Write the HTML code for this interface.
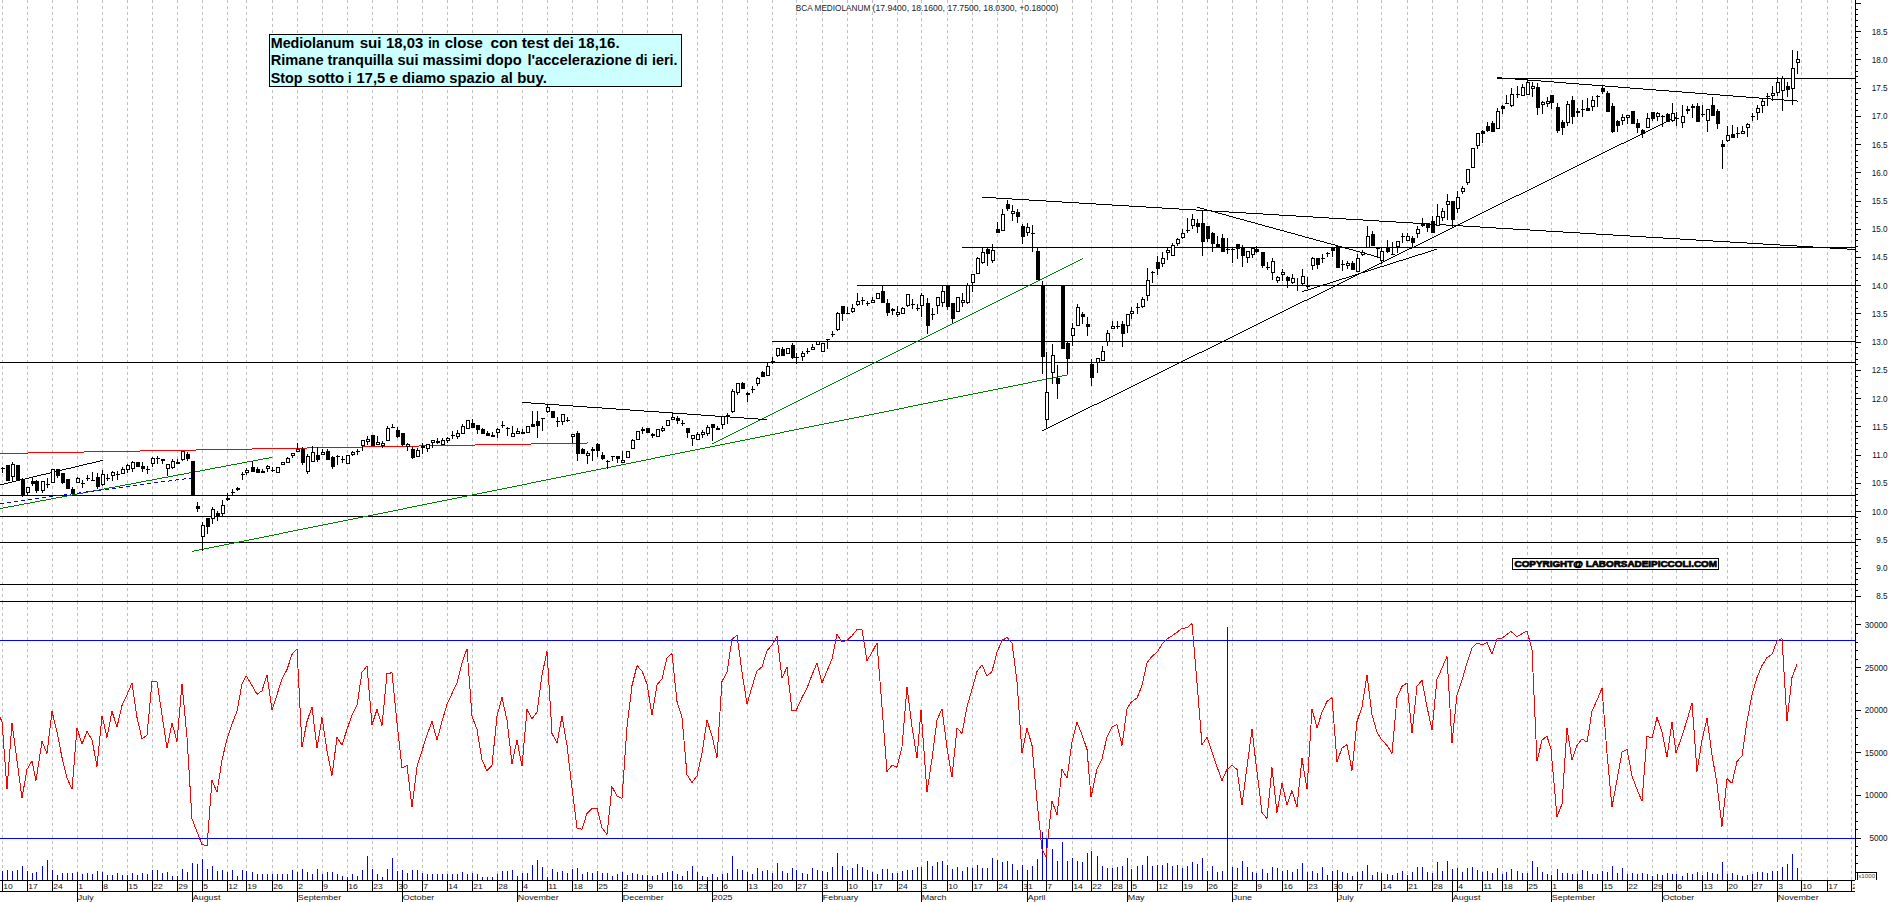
<!DOCTYPE html><html><head><meta charset="utf-8"><title>BCA MEDIOLANUM</title>
<style>html,body{margin:0;padding:0;background:#fff;overflow:hidden}svg{display:block}text{font-family:"Liberation Sans",Arial,sans-serif}</style></head><body>
<svg width="1890" height="902" viewBox="0 0 1890 902">
<rect width="1890" height="902" fill="#fff"/>
<g shape-rendering="crispEdges" stroke="#c0c0c0" stroke-width="1" stroke-dasharray="3 3" fill="none">
<line x1="2.5" y1="0" x2="2.5" y2="601"/><line x1="2.5" y1="601" x2="2.5" y2="880"/>
<line x1="27.5" y1="0" x2="27.5" y2="601"/><line x1="27.5" y1="601" x2="27.5" y2="880"/>
<line x1="52.5" y1="0" x2="52.5" y2="601"/><line x1="52.5" y1="601" x2="52.5" y2="880"/>
<line x1="77.5" y1="0" x2="77.5" y2="601"/><line x1="77.5" y1="601" x2="77.5" y2="880"/>
<line x1="102.5" y1="0" x2="102.5" y2="601"/><line x1="102.5" y1="601" x2="102.5" y2="880"/>
<line x1="127.5" y1="0" x2="127.5" y2="601"/><line x1="127.5" y1="601" x2="127.5" y2="880"/>
<line x1="152.5" y1="0" x2="152.5" y2="601"/><line x1="152.5" y1="601" x2="152.5" y2="880"/>
<line x1="177.5" y1="0" x2="177.5" y2="601"/><line x1="177.5" y1="601" x2="177.5" y2="880"/>
<line x1="202.5" y1="0" x2="202.5" y2="601"/><line x1="202.5" y1="601" x2="202.5" y2="880"/>
<line x1="227.5" y1="0" x2="227.5" y2="601"/><line x1="227.5" y1="601" x2="227.5" y2="880"/>
<line x1="246.5" y1="0" x2="246.5" y2="601"/><line x1="246.5" y1="601" x2="246.5" y2="880"/>
<line x1="272.5" y1="0" x2="272.5" y2="601"/><line x1="272.5" y1="601" x2="272.5" y2="880"/>
<line x1="297.5" y1="0" x2="297.5" y2="601"/><line x1="297.5" y1="601" x2="297.5" y2="880"/>
<line x1="322.5" y1="0" x2="322.5" y2="601"/><line x1="322.5" y1="601" x2="322.5" y2="880"/>
<line x1="347.5" y1="0" x2="347.5" y2="601"/><line x1="347.5" y1="601" x2="347.5" y2="880"/>
<line x1="372.5" y1="0" x2="372.5" y2="601"/><line x1="372.5" y1="601" x2="372.5" y2="880"/>
<line x1="397.5" y1="0" x2="397.5" y2="601"/><line x1="397.5" y1="601" x2="397.5" y2="880"/>
<line x1="422.5" y1="0" x2="422.5" y2="601"/><line x1="422.5" y1="601" x2="422.5" y2="880"/>
<line x1="447.5" y1="0" x2="447.5" y2="601"/><line x1="447.5" y1="601" x2="447.5" y2="880"/>
<line x1="472.5" y1="0" x2="472.5" y2="601"/><line x1="472.5" y1="601" x2="472.5" y2="880"/>
<line x1="497.5" y1="0" x2="497.5" y2="601"/><line x1="497.5" y1="601" x2="497.5" y2="880"/>
<line x1="522.5" y1="0" x2="522.5" y2="601"/><line x1="522.5" y1="601" x2="522.5" y2="880"/>
<line x1="547.5" y1="0" x2="547.5" y2="601"/><line x1="547.5" y1="601" x2="547.5" y2="880"/>
<line x1="572.5" y1="0" x2="572.5" y2="601"/><line x1="572.5" y1="601" x2="572.5" y2="880"/>
<line x1="597.5" y1="0" x2="597.5" y2="601"/><line x1="597.5" y1="601" x2="597.5" y2="880"/>
<line x1="622.5" y1="0" x2="622.5" y2="601"/><line x1="622.5" y1="601" x2="622.5" y2="880"/>
<line x1="647.5" y1="0" x2="647.5" y2="601"/><line x1="647.5" y1="601" x2="647.5" y2="880"/>
<line x1="672.5" y1="0" x2="672.5" y2="601"/><line x1="672.5" y1="601" x2="672.5" y2="880"/>
<line x1="697.5" y1="0" x2="697.5" y2="601"/><line x1="697.5" y1="601" x2="697.5" y2="880"/>
<line x1="722.5" y1="0" x2="722.5" y2="601"/><line x1="722.5" y1="601" x2="722.5" y2="880"/>
<line x1="747.5" y1="0" x2="747.5" y2="601"/><line x1="747.5" y1="601" x2="747.5" y2="880"/>
<line x1="772.5" y1="0" x2="772.5" y2="601"/><line x1="772.5" y1="601" x2="772.5" y2="880"/>
<line x1="796.5" y1="0" x2="796.5" y2="601"/><line x1="796.5" y1="601" x2="796.5" y2="880"/>
<line x1="822.5" y1="0" x2="822.5" y2="601"/><line x1="822.5" y1="601" x2="822.5" y2="880"/>
<line x1="847.5" y1="0" x2="847.5" y2="601"/><line x1="847.5" y1="601" x2="847.5" y2="880"/>
<line x1="872.5" y1="0" x2="872.5" y2="601"/><line x1="872.5" y1="601" x2="872.5" y2="880"/>
<line x1="897.5" y1="0" x2="897.5" y2="601"/><line x1="897.5" y1="601" x2="897.5" y2="880"/>
<line x1="921.5" y1="0" x2="921.5" y2="601"/><line x1="921.5" y1="601" x2="921.5" y2="880"/>
<line x1="947.5" y1="0" x2="947.5" y2="601"/><line x1="947.5" y1="601" x2="947.5" y2="880"/>
<line x1="972.5" y1="0" x2="972.5" y2="601"/><line x1="972.5" y1="601" x2="972.5" y2="880"/>
<line x1="997.5" y1="0" x2="997.5" y2="601"/><line x1="997.5" y1="601" x2="997.5" y2="880"/>
<line x1="1022.5" y1="0" x2="1022.5" y2="601"/><line x1="1022.5" y1="601" x2="1022.5" y2="880"/>
<line x1="1046.5" y1="0" x2="1046.5" y2="601"/><line x1="1046.5" y1="601" x2="1046.5" y2="880"/>
<line x1="1072.5" y1="0" x2="1072.5" y2="601"/><line x1="1072.5" y1="601" x2="1072.5" y2="880"/>
<line x1="1091.5" y1="0" x2="1091.5" y2="601"/><line x1="1091.5" y1="601" x2="1091.5" y2="880"/>
<line x1="1112.5" y1="0" x2="1112.5" y2="601"/><line x1="1112.5" y1="601" x2="1112.5" y2="880"/>
<line x1="1131.5" y1="0" x2="1131.5" y2="601"/><line x1="1131.5" y1="601" x2="1131.5" y2="880"/>
<line x1="1157.5" y1="0" x2="1157.5" y2="601"/><line x1="1157.5" y1="601" x2="1157.5" y2="880"/>
<line x1="1182.5" y1="0" x2="1182.5" y2="601"/><line x1="1182.5" y1="601" x2="1182.5" y2="880"/>
<line x1="1207.5" y1="0" x2="1207.5" y2="601"/><line x1="1207.5" y1="601" x2="1207.5" y2="880"/>
<line x1="1232.5" y1="0" x2="1232.5" y2="601"/><line x1="1232.5" y1="601" x2="1232.5" y2="880"/>
<line x1="1256.5" y1="0" x2="1256.5" y2="601"/><line x1="1256.5" y1="601" x2="1256.5" y2="880"/>
<line x1="1282.5" y1="0" x2="1282.5" y2="601"/><line x1="1282.5" y1="601" x2="1282.5" y2="880"/>
<line x1="1307.5" y1="0" x2="1307.5" y2="601"/><line x1="1307.5" y1="601" x2="1307.5" y2="880"/>
<line x1="1332.5" y1="0" x2="1332.5" y2="601"/><line x1="1332.5" y1="601" x2="1332.5" y2="880"/>
<line x1="1357.5" y1="0" x2="1357.5" y2="601"/><line x1="1357.5" y1="601" x2="1357.5" y2="880"/>
<line x1="1381.5" y1="0" x2="1381.5" y2="601"/><line x1="1381.5" y1="601" x2="1381.5" y2="880"/>
<line x1="1407.5" y1="0" x2="1407.5" y2="601"/><line x1="1407.5" y1="601" x2="1407.5" y2="880"/>
<line x1="1432.5" y1="0" x2="1432.5" y2="601"/><line x1="1432.5" y1="601" x2="1432.5" y2="880"/>
<line x1="1457.5" y1="0" x2="1457.5" y2="601"/><line x1="1457.5" y1="601" x2="1457.5" y2="880"/>
<line x1="1482.5" y1="0" x2="1482.5" y2="601"/><line x1="1482.5" y1="601" x2="1482.5" y2="880"/>
<line x1="1502.5" y1="0" x2="1502.5" y2="601"/><line x1="1502.5" y1="601" x2="1502.5" y2="880"/>
<line x1="1527.5" y1="0" x2="1527.5" y2="601"/><line x1="1527.5" y1="601" x2="1527.5" y2="880"/>
<line x1="1551.5" y1="0" x2="1551.5" y2="601"/><line x1="1551.5" y1="601" x2="1551.5" y2="880"/>
<line x1="1577.5" y1="0" x2="1577.5" y2="601"/><line x1="1577.5" y1="601" x2="1577.5" y2="880"/>
<line x1="1602.5" y1="0" x2="1602.5" y2="601"/><line x1="1602.5" y1="601" x2="1602.5" y2="880"/>
<line x1="1627.5" y1="0" x2="1627.5" y2="601"/><line x1="1627.5" y1="601" x2="1627.5" y2="880"/>
<line x1="1652.5" y1="0" x2="1652.5" y2="601"/><line x1="1652.5" y1="601" x2="1652.5" y2="880"/>
<line x1="1676.5" y1="0" x2="1676.5" y2="601"/><line x1="1676.5" y1="601" x2="1676.5" y2="880"/>
<line x1="1702.5" y1="0" x2="1702.5" y2="601"/><line x1="1702.5" y1="601" x2="1702.5" y2="880"/>
<line x1="1727.5" y1="0" x2="1727.5" y2="601"/><line x1="1727.5" y1="601" x2="1727.5" y2="880"/>
<line x1="1752.5" y1="0" x2="1752.5" y2="601"/><line x1="1752.5" y1="601" x2="1752.5" y2="880"/>
<line x1="1777.5" y1="0" x2="1777.5" y2="601"/><line x1="1777.5" y1="601" x2="1777.5" y2="880"/>
<line x1="1801.5" y1="0" x2="1801.5" y2="601"/><line x1="1801.5" y1="601" x2="1801.5" y2="880"/>
<line x1="1827.5" y1="0" x2="1827.5" y2="601"/><line x1="1827.5" y1="601" x2="1827.5" y2="880"/>
<line x1="1851.5" y1="0" x2="1851.5" y2="601"/><line x1="1851.5" y1="601" x2="1851.5" y2="880"/>
</g>
<g shape-rendering="crispEdges" fill="#000">
<rect x="1497" y="78" width="358" height="1"/>
<rect x="962" y="247" width="893" height="1"/>
<rect x="857" y="285" width="998" height="1"/>
<rect x="772" y="341" width="1083" height="1"/>
<rect x="0" y="362" width="1855" height="1"/>
<rect x="0" y="495" width="1855" height="1"/>
<rect x="0" y="516" width="1855" height="1"/>
<rect x="0" y="542" width="1855" height="1"/>
<rect x="0" y="584" width="1855" height="1"/>
<rect x="0" y="601" width="1855" height="1"/>
</g>
<g shape-rendering="crispEdges">
<g fill="#f00"><rect x="0" y="453" width="28" height="1"/><rect x="28" y="452" width="56" height="1"/><rect x="84" y="451" width="56" height="1"/><rect x="140" y="450" width="56" height="1"/><rect x="196" y="449" width="56" height="1"/><rect x="252" y="448" width="55" height="1"/><rect x="307" y="447" width="56" height="1"/><rect x="363" y="446" width="56" height="1"/><rect x="419" y="445" width="56" height="1"/><rect x="475" y="444" width="56" height="1"/><rect x="531" y="443" width="56" height="1"/><rect x="587" y="442" width="1" height="1"/></g>
<g fill="#008000"><rect x="0" y="508" width="3" height="1"/><rect x="3" y="507" width="5" height="1"/><rect x="8" y="506" width="6" height="1"/><rect x="14" y="505" width="5" height="1"/><rect x="19" y="504" width="5" height="1"/><rect x="24" y="503" width="6" height="1"/><rect x="30" y="502" width="5" height="1"/><rect x="35" y="501" width="5" height="1"/><rect x="40" y="500" width="6" height="1"/><rect x="46" y="499" width="5" height="1"/><rect x="51" y="498" width="5" height="1"/><rect x="56" y="497" width="6" height="1"/><rect x="62" y="496" width="5" height="1"/><rect x="67" y="495" width="5" height="1"/><rect x="72" y="494" width="5" height="1"/><rect x="77" y="493" width="6" height="1"/><rect x="83" y="492" width="5" height="1"/><rect x="88" y="491" width="5" height="1"/><rect x="93" y="490" width="6" height="1"/><rect x="99" y="489" width="5" height="1"/><rect x="104" y="488" width="5" height="1"/><rect x="109" y="487" width="6" height="1"/><rect x="115" y="486" width="5" height="1"/><rect x="120" y="485" width="5" height="1"/><rect x="125" y="484" width="6" height="1"/><rect x="131" y="483" width="5" height="1"/><rect x="136" y="482" width="5" height="1"/><rect x="141" y="481" width="5" height="1"/><rect x="146" y="480" width="6" height="1"/><rect x="152" y="479" width="5" height="1"/><rect x="157" y="478" width="5" height="1"/><rect x="162" y="477" width="6" height="1"/><rect x="168" y="476" width="5" height="1"/><rect x="173" y="475" width="5" height="1"/><rect x="178" y="474" width="6" height="1"/><rect x="184" y="473" width="5" height="1"/><rect x="189" y="472" width="5" height="1"/><rect x="194" y="471" width="6" height="1"/><rect x="200" y="470" width="5" height="1"/><rect x="205" y="469" width="5" height="1"/><rect x="210" y="468" width="5" height="1"/><rect x="215" y="467" width="6" height="1"/><rect x="221" y="466" width="5" height="1"/><rect x="226" y="465" width="5" height="1"/><rect x="231" y="464" width="6" height="1"/><rect x="237" y="463" width="5" height="1"/><rect x="242" y="462" width="5" height="1"/><rect x="247" y="461" width="6" height="1"/><rect x="253" y="460" width="5" height="1"/><rect x="258" y="459" width="5" height="1"/><rect x="263" y="458" width="6" height="1"/><rect x="269" y="457" width="3" height="1"/></g>
<g fill="#00f"><rect x="0" y="503" width="4" height="1"/><rect x="7" y="502" width="4" height="1"/><rect x="14" y="501" width="4" height="1"/><rect x="21" y="500" width="4" height="1"/><rect x="28" y="499" width="4" height="1"/><rect x="35" y="498" width="4" height="1"/><rect x="42" y="497" width="4" height="1"/><rect x="49" y="496" width="4" height="1"/><rect x="56" y="495" width="4" height="1"/><rect x="63" y="495" width="1" height="1"/><rect x="64" y="494" width="3" height="1"/><rect x="70" y="494" width="1" height="1"/><rect x="71" y="493" width="3" height="1"/><rect x="77" y="493" width="2" height="1"/><rect x="79" y="492" width="2" height="1"/><rect x="84" y="492" width="2" height="1"/><rect x="86" y="491" width="2" height="1"/><rect x="91" y="491" width="3" height="1"/><rect x="94" y="490" width="1" height="1"/><rect x="98" y="490" width="3" height="1"/><rect x="101" y="489" width="1" height="1"/><rect x="105" y="489" width="4" height="1"/><rect x="112" y="488" width="4" height="1"/><rect x="119" y="487" width="4" height="1"/><rect x="126" y="486" width="4" height="1"/><rect x="133" y="485" width="4" height="1"/><rect x="140" y="484" width="4" height="1"/><rect x="147" y="483" width="4" height="1"/><rect x="154" y="482" width="4" height="1"/><rect x="161" y="481" width="4" height="1"/><rect x="168" y="481" width="1" height="1"/><rect x="169" y="480" width="3" height="1"/><rect x="175" y="480" width="1" height="1"/><rect x="176" y="479" width="3" height="1"/><rect x="182" y="479" width="2" height="1"/><rect x="184" y="478" width="2" height="1"/><rect x="189" y="478" width="2" height="1"/><rect x="191" y="477" width="2" height="1"/></g>
<g fill="#000"><rect x="0" y="484" width="4" height="1"/><rect x="4" y="483" width="4" height="1"/><rect x="8" y="482" width="4" height="1"/><rect x="12" y="481" width="4" height="1"/><rect x="16" y="480" width="4" height="1"/><rect x="20" y="479" width="5" height="1"/><rect x="25" y="478" width="4" height="1"/><rect x="29" y="477" width="4" height="1"/><rect x="33" y="476" width="4" height="1"/><rect x="37" y="475" width="4" height="1"/><rect x="41" y="474" width="5" height="1"/><rect x="46" y="473" width="4" height="1"/><rect x="50" y="472" width="4" height="1"/><rect x="54" y="471" width="4" height="1"/><rect x="58" y="470" width="4" height="1"/><rect x="62" y="469" width="4" height="1"/><rect x="66" y="468" width="5" height="1"/><rect x="71" y="467" width="4" height="1"/><rect x="75" y="466" width="4" height="1"/><rect x="79" y="465" width="4" height="1"/><rect x="83" y="464" width="4" height="1"/><rect x="87" y="463" width="5" height="1"/><rect x="92" y="462" width="4" height="1"/><rect x="96" y="461" width="4" height="1"/><rect x="100" y="460" width="3" height="1"/></g>
<g fill="#008000"><rect x="192" y="551" width="2" height="1"/><rect x="194" y="550" width="5" height="1"/><rect x="199" y="549" width="5" height="1"/><rect x="204" y="548" width="5" height="1"/><rect x="209" y="547" width="5" height="1"/><rect x="214" y="546" width="5" height="1"/><rect x="219" y="545" width="5" height="1"/><rect x="224" y="544" width="5" height="1"/><rect x="229" y="543" width="5" height="1"/><rect x="234" y="542" width="5" height="1"/><rect x="239" y="541" width="5" height="1"/><rect x="244" y="540" width="5" height="1"/><rect x="249" y="539" width="5" height="1"/><rect x="254" y="538" width="5" height="1"/><rect x="259" y="537" width="5" height="1"/><rect x="264" y="536" width="5" height="1"/><rect x="269" y="535" width="5" height="1"/><rect x="274" y="534" width="5" height="1"/><rect x="279" y="533" width="4" height="1"/><rect x="283" y="532" width="5" height="1"/><rect x="288" y="531" width="5" height="1"/><rect x="293" y="530" width="5" height="1"/><rect x="298" y="529" width="5" height="1"/><rect x="303" y="528" width="5" height="1"/><rect x="308" y="527" width="5" height="1"/><rect x="313" y="526" width="5" height="1"/><rect x="318" y="525" width="5" height="1"/><rect x="323" y="524" width="5" height="1"/><rect x="328" y="523" width="5" height="1"/><rect x="333" y="522" width="5" height="1"/><rect x="338" y="521" width="5" height="1"/><rect x="343" y="520" width="5" height="1"/><rect x="348" y="519" width="5" height="1"/><rect x="353" y="518" width="5" height="1"/><rect x="358" y="517" width="5" height="1"/><rect x="363" y="516" width="5" height="1"/><rect x="368" y="515" width="5" height="1"/><rect x="373" y="514" width="5" height="1"/><rect x="378" y="513" width="5" height="1"/><rect x="383" y="512" width="5" height="1"/><rect x="388" y="511" width="5" height="1"/><rect x="393" y="510" width="5" height="1"/><rect x="398" y="509" width="5" height="1"/><rect x="403" y="508" width="4" height="1"/><rect x="407" y="507" width="5" height="1"/><rect x="412" y="506" width="5" height="1"/><rect x="417" y="505" width="5" height="1"/><rect x="422" y="504" width="5" height="1"/><rect x="427" y="503" width="5" height="1"/><rect x="432" y="502" width="5" height="1"/><rect x="437" y="501" width="5" height="1"/><rect x="442" y="500" width="5" height="1"/><rect x="447" y="499" width="5" height="1"/><rect x="452" y="498" width="5" height="1"/><rect x="457" y="497" width="5" height="1"/><rect x="462" y="496" width="5" height="1"/><rect x="467" y="495" width="5" height="1"/><rect x="472" y="494" width="5" height="1"/><rect x="477" y="493" width="5" height="1"/><rect x="482" y="492" width="5" height="1"/><rect x="487" y="491" width="5" height="1"/><rect x="492" y="490" width="5" height="1"/><rect x="497" y="489" width="5" height="1"/><rect x="502" y="488" width="5" height="1"/><rect x="507" y="487" width="5" height="1"/><rect x="512" y="486" width="5" height="1"/><rect x="517" y="485" width="5" height="1"/><rect x="522" y="484" width="5" height="1"/><rect x="527" y="483" width="4" height="1"/><rect x="531" y="482" width="5" height="1"/><rect x="536" y="481" width="5" height="1"/><rect x="541" y="480" width="5" height="1"/><rect x="546" y="479" width="5" height="1"/><rect x="551" y="478" width="5" height="1"/><rect x="556" y="477" width="5" height="1"/><rect x="561" y="476" width="5" height="1"/><rect x="566" y="475" width="5" height="1"/><rect x="571" y="474" width="5" height="1"/><rect x="576" y="473" width="5" height="1"/><rect x="581" y="472" width="5" height="1"/><rect x="586" y="471" width="5" height="1"/><rect x="591" y="470" width="5" height="1"/><rect x="596" y="469" width="5" height="1"/><rect x="601" y="468" width="5" height="1"/><rect x="606" y="467" width="5" height="1"/><rect x="611" y="466" width="5" height="1"/><rect x="616" y="465" width="5" height="1"/><rect x="621" y="464" width="5" height="1"/><rect x="626" y="463" width="5" height="1"/><rect x="631" y="462" width="5" height="1"/><rect x="636" y="461" width="5" height="1"/><rect x="641" y="460" width="5" height="1"/><rect x="646" y="459" width="5" height="1"/><rect x="651" y="458" width="4" height="1"/><rect x="655" y="457" width="5" height="1"/><rect x="660" y="456" width="5" height="1"/><rect x="665" y="455" width="5" height="1"/><rect x="670" y="454" width="5" height="1"/><rect x="675" y="453" width="5" height="1"/><rect x="680" y="452" width="5" height="1"/><rect x="685" y="451" width="5" height="1"/><rect x="690" y="450" width="5" height="1"/><rect x="695" y="449" width="5" height="1"/><rect x="700" y="448" width="5" height="1"/><rect x="705" y="447" width="5" height="1"/><rect x="710" y="446" width="5" height="1"/><rect x="715" y="445" width="5" height="1"/><rect x="720" y="444" width="5" height="1"/><rect x="725" y="443" width="5" height="1"/><rect x="730" y="442" width="5" height="1"/><rect x="735" y="441" width="5" height="1"/><rect x="740" y="440" width="5" height="1"/><rect x="745" y="439" width="5" height="1"/><rect x="750" y="438" width="5" height="1"/><rect x="755" y="437" width="5" height="1"/><rect x="760" y="436" width="5" height="1"/><rect x="765" y="435" width="5" height="1"/><rect x="770" y="434" width="5" height="1"/><rect x="775" y="433" width="5" height="1"/><rect x="780" y="432" width="4" height="1"/><rect x="784" y="431" width="5" height="1"/><rect x="789" y="430" width="5" height="1"/><rect x="794" y="429" width="5" height="1"/><rect x="799" y="428" width="5" height="1"/><rect x="804" y="427" width="5" height="1"/><rect x="809" y="426" width="5" height="1"/><rect x="814" y="425" width="5" height="1"/><rect x="819" y="424" width="5" height="1"/><rect x="824" y="423" width="5" height="1"/><rect x="829" y="422" width="5" height="1"/><rect x="834" y="421" width="5" height="1"/><rect x="839" y="420" width="5" height="1"/><rect x="844" y="419" width="5" height="1"/><rect x="849" y="418" width="5" height="1"/><rect x="854" y="417" width="5" height="1"/><rect x="859" y="416" width="5" height="1"/><rect x="864" y="415" width="5" height="1"/><rect x="869" y="414" width="5" height="1"/><rect x="874" y="413" width="5" height="1"/><rect x="879" y="412" width="5" height="1"/><rect x="884" y="411" width="5" height="1"/><rect x="889" y="410" width="5" height="1"/><rect x="894" y="409" width="5" height="1"/><rect x="899" y="408" width="5" height="1"/><rect x="904" y="407" width="4" height="1"/><rect x="908" y="406" width="5" height="1"/><rect x="913" y="405" width="5" height="1"/><rect x="918" y="404" width="5" height="1"/><rect x="923" y="403" width="5" height="1"/><rect x="928" y="402" width="5" height="1"/><rect x="933" y="401" width="5" height="1"/><rect x="938" y="400" width="5" height="1"/><rect x="943" y="399" width="5" height="1"/><rect x="948" y="398" width="5" height="1"/><rect x="953" y="397" width="5" height="1"/><rect x="958" y="396" width="5" height="1"/><rect x="963" y="395" width="5" height="1"/><rect x="968" y="394" width="5" height="1"/><rect x="973" y="393" width="5" height="1"/><rect x="978" y="392" width="5" height="1"/><rect x="983" y="391" width="5" height="1"/><rect x="988" y="390" width="5" height="1"/><rect x="993" y="389" width="5" height="1"/><rect x="998" y="388" width="5" height="1"/><rect x="1003" y="387" width="5" height="1"/><rect x="1008" y="386" width="5" height="1"/><rect x="1013" y="385" width="5" height="1"/><rect x="1018" y="384" width="5" height="1"/><rect x="1023" y="383" width="5" height="1"/><rect x="1028" y="382" width="4" height="1"/><rect x="1032" y="381" width="5" height="1"/><rect x="1037" y="380" width="5" height="1"/><rect x="1042" y="379" width="5" height="1"/><rect x="1047" y="378" width="5" height="1"/><rect x="1052" y="377" width="5" height="1"/><rect x="1057" y="376" width="5" height="1"/><rect x="1062" y="375" width="5" height="1"/><rect x="1067" y="374" width="1" height="1"/></g>
<g fill="#008000"><rect x="712" y="443" width="2" height="1"/><rect x="714" y="442" width="2" height="1"/><rect x="716" y="441" width="2" height="1"/><rect x="718" y="440" width="2" height="1"/><rect x="720" y="439" width="2" height="1"/><rect x="722" y="438" width="2" height="1"/><rect x="724" y="437" width="2" height="1"/><rect x="726" y="436" width="2" height="1"/><rect x="728" y="435" width="2" height="1"/><rect x="730" y="434" width="2" height="1"/><rect x="732" y="433" width="2" height="1"/><rect x="734" y="432" width="2" height="1"/><rect x="736" y="431" width="2" height="1"/><rect x="738" y="430" width="2" height="1"/><rect x="740" y="429" width="2" height="1"/><rect x="742" y="428" width="2" height="1"/><rect x="744" y="427" width="2" height="1"/><rect x="746" y="426" width="2" height="1"/><rect x="748" y="425" width="2" height="1"/><rect x="750" y="424" width="2" height="1"/><rect x="752" y="423" width="2" height="1"/><rect x="754" y="422" width="2" height="1"/><rect x="756" y="421" width="2" height="1"/><rect x="758" y="420" width="2" height="1"/><rect x="760" y="419" width="2" height="1"/><rect x="762" y="418" width="2" height="1"/><rect x="764" y="417" width="2" height="1"/><rect x="766" y="416" width="2" height="1"/><rect x="768" y="415" width="2" height="1"/><rect x="770" y="414" width="2" height="1"/><rect x="772" y="413" width="2" height="1"/><rect x="774" y="412" width="2" height="1"/><rect x="776" y="411" width="2" height="1"/><rect x="778" y="410" width="2" height="1"/><rect x="780" y="409" width="2" height="1"/><rect x="782" y="408" width="2" height="1"/><rect x="784" y="407" width="2" height="1"/><rect x="786" y="406" width="2" height="1"/><rect x="788" y="405" width="2" height="1"/><rect x="790" y="404" width="2" height="1"/><rect x="792" y="403" width="2" height="1"/><rect x="794" y="402" width="2" height="1"/><rect x="796" y="401" width="2" height="1"/><rect x="798" y="400" width="2" height="1"/><rect x="800" y="399" width="2" height="1"/><rect x="802" y="398" width="2" height="1"/><rect x="804" y="397" width="2" height="1"/><rect x="806" y="396" width="2" height="1"/><rect x="808" y="395" width="2" height="1"/><rect x="810" y="394" width="2" height="1"/><rect x="812" y="393" width="2" height="1"/><rect x="814" y="392" width="2" height="1"/><rect x="816" y="391" width="2" height="1"/><rect x="818" y="390" width="2" height="1"/><rect x="820" y="389" width="2" height="1"/><rect x="822" y="388" width="2" height="1"/><rect x="824" y="387" width="2" height="1"/><rect x="826" y="386" width="2" height="1"/><rect x="828" y="385" width="2" height="1"/><rect x="830" y="384" width="2" height="1"/><rect x="832" y="383" width="2" height="1"/><rect x="834" y="382" width="2" height="1"/><rect x="836" y="381" width="2" height="1"/><rect x="838" y="380" width="2" height="1"/><rect x="840" y="379" width="2" height="1"/><rect x="842" y="378" width="2" height="1"/><rect x="844" y="377" width="2" height="1"/><rect x="846" y="376" width="2" height="1"/><rect x="848" y="375" width="2" height="1"/><rect x="850" y="374" width="2" height="1"/><rect x="852" y="373" width="2" height="1"/><rect x="854" y="372" width="2" height="1"/><rect x="856" y="371" width="2" height="1"/><rect x="858" y="370" width="2" height="1"/><rect x="860" y="369" width="2" height="1"/><rect x="862" y="368" width="2" height="1"/><rect x="864" y="367" width="2" height="1"/><rect x="866" y="366" width="2" height="1"/><rect x="868" y="365" width="2" height="1"/><rect x="870" y="364" width="2" height="1"/><rect x="872" y="363" width="2" height="1"/><rect x="874" y="362" width="2" height="1"/><rect x="876" y="361" width="2" height="1"/><rect x="878" y="360" width="2" height="1"/><rect x="880" y="359" width="2" height="1"/><rect x="882" y="358" width="2" height="1"/><rect x="884" y="357" width="2" height="1"/><rect x="886" y="356" width="2" height="1"/><rect x="888" y="355" width="2" height="1"/><rect x="890" y="354" width="2" height="1"/><rect x="892" y="353" width="2" height="1"/><rect x="894" y="352" width="2" height="1"/><rect x="896" y="351" width="2" height="1"/><rect x="898" y="350" width="2" height="1"/><rect x="900" y="349" width="2" height="1"/><rect x="902" y="348" width="2" height="1"/><rect x="904" y="347" width="2" height="1"/><rect x="906" y="346" width="2" height="1"/><rect x="908" y="345" width="2" height="1"/><rect x="910" y="344" width="2" height="1"/><rect x="912" y="343" width="2" height="1"/><rect x="914" y="342" width="2" height="1"/><rect x="916" y="341" width="2" height="1"/><rect x="918" y="340" width="2" height="1"/><rect x="920" y="339" width="2" height="1"/><rect x="922" y="338" width="2" height="1"/><rect x="924" y="337" width="2" height="1"/><rect x="926" y="336" width="2" height="1"/><rect x="928" y="335" width="2" height="1"/><rect x="930" y="334" width="2" height="1"/><rect x="932" y="333" width="2" height="1"/><rect x="934" y="332" width="2" height="1"/><rect x="936" y="331" width="2" height="1"/><rect x="938" y="330" width="2" height="1"/><rect x="940" y="329" width="2" height="1"/><rect x="942" y="328" width="2" height="1"/><rect x="944" y="327" width="2" height="1"/><rect x="946" y="326" width="2" height="1"/><rect x="948" y="325" width="2" height="1"/><rect x="950" y="324" width="2" height="1"/><rect x="952" y="323" width="2" height="1"/><rect x="954" y="322" width="2" height="1"/><rect x="956" y="321" width="2" height="1"/><rect x="958" y="320" width="2" height="1"/><rect x="960" y="319" width="2" height="1"/><rect x="962" y="318" width="2" height="1"/><rect x="964" y="317" width="2" height="1"/><rect x="966" y="316" width="2" height="1"/><rect x="968" y="315" width="2" height="1"/><rect x="970" y="314" width="2" height="1"/><rect x="972" y="313" width="2" height="1"/><rect x="974" y="312" width="2" height="1"/><rect x="976" y="311" width="2" height="1"/><rect x="978" y="310" width="2" height="1"/><rect x="980" y="309" width="2" height="1"/><rect x="982" y="308" width="2" height="1"/><rect x="984" y="307" width="2" height="1"/><rect x="986" y="306" width="2" height="1"/><rect x="988" y="305" width="2" height="1"/><rect x="990" y="304" width="2" height="1"/><rect x="992" y="303" width="2" height="1"/><rect x="994" y="302" width="2" height="1"/><rect x="996" y="301" width="2" height="1"/><rect x="998" y="300" width="2" height="1"/><rect x="1000" y="299" width="2" height="1"/><rect x="1002" y="298" width="2" height="1"/><rect x="1004" y="297" width="2" height="1"/><rect x="1006" y="296" width="2" height="1"/><rect x="1008" y="295" width="2" height="1"/><rect x="1010" y="294" width="2" height="1"/><rect x="1012" y="293" width="2" height="1"/><rect x="1014" y="292" width="2" height="1"/><rect x="1016" y="291" width="2" height="1"/><rect x="1018" y="290" width="2" height="1"/><rect x="1020" y="289" width="2" height="1"/><rect x="1022" y="288" width="2" height="1"/><rect x="1024" y="287" width="2" height="1"/><rect x="1026" y="286" width="2" height="1"/><rect x="1028" y="285" width="2" height="1"/><rect x="1030" y="284" width="2" height="1"/><rect x="1032" y="283" width="2" height="1"/><rect x="1034" y="282" width="2" height="1"/><rect x="1036" y="281" width="2" height="1"/><rect x="1038" y="280" width="2" height="1"/><rect x="1040" y="279" width="2" height="1"/><rect x="1042" y="278" width="2" height="1"/><rect x="1044" y="277" width="2" height="1"/><rect x="1046" y="276" width="2" height="1"/><rect x="1048" y="275" width="2" height="1"/><rect x="1050" y="274" width="2" height="1"/><rect x="1052" y="273" width="2" height="1"/><rect x="1054" y="272" width="2" height="1"/><rect x="1056" y="271" width="2" height="1"/><rect x="1058" y="270" width="2" height="1"/><rect x="1060" y="269" width="2" height="1"/><rect x="1062" y="268" width="2" height="1"/><rect x="1064" y="267" width="2" height="1"/><rect x="1066" y="266" width="2" height="1"/><rect x="1068" y="265" width="2" height="1"/><rect x="1070" y="264" width="2" height="1"/><rect x="1072" y="263" width="2" height="1"/><rect x="1074" y="262" width="2" height="1"/><rect x="1076" y="261" width="2" height="1"/><rect x="1078" y="260" width="2" height="1"/><rect x="1080" y="259" width="2" height="1"/><rect x="1082" y="258" width="1" height="1"/></g>
<g fill="#000"><rect x="522" y="402" width="9" height="1"/><rect x="531" y="403" width="14" height="1"/><rect x="545" y="404" width="14" height="1"/><rect x="559" y="405" width="14" height="1"/><rect x="573" y="406" width="14" height="1"/><rect x="587" y="407" width="15" height="1"/><rect x="602" y="408" width="14" height="1"/><rect x="616" y="409" width="14" height="1"/><rect x="630" y="410" width="14" height="1"/><rect x="644" y="411" width="15" height="1"/><rect x="659" y="412" width="14" height="1"/><rect x="673" y="413" width="14" height="1"/><rect x="687" y="414" width="14" height="1"/><rect x="701" y="415" width="14" height="1"/><rect x="715" y="416" width="15" height="1"/><rect x="730" y="417" width="14" height="1"/><rect x="744" y="418" width="14" height="1"/><rect x="758" y="419" width="9" height="1"/></g>
<g fill="#000"><rect x="982" y="197" width="14" height="1"/><rect x="996" y="198" width="16" height="1"/><rect x="1012" y="199" width="17" height="1"/><rect x="1029" y="200" width="17" height="1"/><rect x="1046" y="201" width="16" height="1"/><rect x="1062" y="202" width="17" height="1"/><rect x="1079" y="203" width="17" height="1"/><rect x="1096" y="204" width="16" height="1"/><rect x="1112" y="205" width="17" height="1"/><rect x="1129" y="206" width="17" height="1"/><rect x="1146" y="207" width="16" height="1"/><rect x="1162" y="208" width="17" height="1"/><rect x="1179" y="209" width="17" height="1"/><rect x="1196" y="210" width="16" height="1"/><rect x="1212" y="211" width="17" height="1"/><rect x="1229" y="212" width="17" height="1"/><rect x="1246" y="213" width="17" height="1"/><rect x="1263" y="214" width="16" height="1"/><rect x="1279" y="215" width="17" height="1"/><rect x="1296" y="216" width="17" height="1"/><rect x="1313" y="217" width="16" height="1"/><rect x="1329" y="218" width="17" height="1"/><rect x="1346" y="219" width="17" height="1"/><rect x="1363" y="220" width="16" height="1"/><rect x="1379" y="221" width="17" height="1"/><rect x="1396" y="222" width="17" height="1"/><rect x="1413" y="223" width="16" height="1"/><rect x="1429" y="224" width="17" height="1"/><rect x="1446" y="225" width="17" height="1"/><rect x="1463" y="226" width="17" height="1"/><rect x="1480" y="227" width="16" height="1"/><rect x="1496" y="228" width="17" height="1"/><rect x="1513" y="229" width="17" height="1"/><rect x="1530" y="230" width="16" height="1"/><rect x="1546" y="231" width="17" height="1"/><rect x="1563" y="232" width="17" height="1"/><rect x="1580" y="233" width="16" height="1"/><rect x="1596" y="234" width="17" height="1"/><rect x="1613" y="235" width="17" height="1"/><rect x="1630" y="236" width="16" height="1"/><rect x="1646" y="237" width="17" height="1"/><rect x="1663" y="238" width="17" height="1"/><rect x="1680" y="239" width="16" height="1"/><rect x="1696" y="240" width="17" height="1"/><rect x="1713" y="241" width="17" height="1"/><rect x="1730" y="242" width="17" height="1"/><rect x="1747" y="243" width="16" height="1"/><rect x="1763" y="244" width="17" height="1"/><rect x="1780" y="245" width="17" height="1"/><rect x="1797" y="246" width="16" height="1"/><rect x="1813" y="247" width="17" height="1"/><rect x="1830" y="248" width="17" height="1"/><rect x="1847" y="249" width="9" height="1"/></g>
<g fill="#000"><rect x="1197" y="207" width="3" height="1"/><rect x="1200" y="208" width="4" height="1"/><rect x="1204" y="209" width="3" height="1"/><rect x="1207" y="210" width="4" height="1"/><rect x="1211" y="211" width="4" height="1"/><rect x="1215" y="212" width="3" height="1"/><rect x="1218" y="213" width="4" height="1"/><rect x="1222" y="214" width="4" height="1"/><rect x="1226" y="215" width="3" height="1"/><rect x="1229" y="216" width="4" height="1"/><rect x="1233" y="217" width="3" height="1"/><rect x="1236" y="218" width="4" height="1"/><rect x="1240" y="219" width="4" height="1"/><rect x="1244" y="220" width="3" height="1"/><rect x="1247" y="221" width="4" height="1"/><rect x="1251" y="222" width="4" height="1"/><rect x="1255" y="223" width="3" height="1"/><rect x="1258" y="224" width="4" height="1"/><rect x="1262" y="225" width="3" height="1"/><rect x="1265" y="226" width="4" height="1"/><rect x="1269" y="227" width="4" height="1"/><rect x="1273" y="228" width="3" height="1"/><rect x="1276" y="229" width="4" height="1"/><rect x="1280" y="230" width="4" height="1"/><rect x="1284" y="231" width="3" height="1"/><rect x="1287" y="232" width="4" height="1"/><rect x="1291" y="233" width="4" height="1"/><rect x="1295" y="234" width="3" height="1"/><rect x="1298" y="235" width="4" height="1"/><rect x="1302" y="236" width="3" height="1"/><rect x="1305" y="237" width="4" height="1"/><rect x="1309" y="238" width="4" height="1"/><rect x="1313" y="239" width="3" height="1"/><rect x="1316" y="240" width="4" height="1"/><rect x="1320" y="241" width="4" height="1"/><rect x="1324" y="242" width="3" height="1"/><rect x="1327" y="243" width="4" height="1"/><rect x="1331" y="244" width="4" height="1"/><rect x="1335" y="245" width="3" height="1"/><rect x="1338" y="246" width="4" height="1"/><rect x="1342" y="247" width="3" height="1"/><rect x="1345" y="248" width="4" height="1"/><rect x="1349" y="249" width="4" height="1"/><rect x="1353" y="250" width="3" height="1"/><rect x="1356" y="251" width="4" height="1"/><rect x="1360" y="252" width="4" height="1"/><rect x="1364" y="253" width="3" height="1"/><rect x="1367" y="254" width="4" height="1"/><rect x="1371" y="255" width="3" height="1"/><rect x="1374" y="256" width="4" height="1"/><rect x="1378" y="257" width="4" height="1"/></g>
<g fill="#000"><rect x="1302" y="291" width="2" height="1"/><rect x="1304" y="290" width="4" height="1"/><rect x="1308" y="289" width="3" height="1"/><rect x="1311" y="288" width="3" height="1"/><rect x="1314" y="287" width="3" height="1"/><rect x="1317" y="286" width="3" height="1"/><rect x="1320" y="285" width="3" height="1"/><rect x="1323" y="284" width="4" height="1"/><rect x="1327" y="283" width="3" height="1"/><rect x="1330" y="282" width="3" height="1"/><rect x="1333" y="281" width="3" height="1"/><rect x="1336" y="280" width="3" height="1"/><rect x="1339" y="279" width="3" height="1"/><rect x="1342" y="278" width="4" height="1"/><rect x="1346" y="277" width="3" height="1"/><rect x="1349" y="276" width="3" height="1"/><rect x="1352" y="275" width="3" height="1"/><rect x="1355" y="274" width="3" height="1"/><rect x="1358" y="273" width="3" height="1"/><rect x="1361" y="272" width="4" height="1"/><rect x="1365" y="271" width="3" height="1"/><rect x="1368" y="270" width="3" height="1"/><rect x="1371" y="269" width="3" height="1"/><rect x="1374" y="268" width="3" height="1"/><rect x="1377" y="267" width="3" height="1"/><rect x="1380" y="266" width="4" height="1"/><rect x="1384" y="265" width="3" height="1"/><rect x="1387" y="264" width="3" height="1"/><rect x="1390" y="263" width="3" height="1"/><rect x="1393" y="262" width="3" height="1"/><rect x="1396" y="261" width="3" height="1"/><rect x="1399" y="260" width="4" height="1"/><rect x="1403" y="259" width="3" height="1"/><rect x="1406" y="258" width="3" height="1"/><rect x="1409" y="257" width="3" height="1"/><rect x="1412" y="256" width="3" height="1"/><rect x="1415" y="255" width="3" height="1"/><rect x="1418" y="254" width="4" height="1"/><rect x="1422" y="253" width="3" height="1"/><rect x="1425" y="252" width="3" height="1"/><rect x="1428" y="251" width="3" height="1"/><rect x="1431" y="250" width="3" height="1"/><rect x="1434" y="249" width="3" height="1"/></g>
<g fill="#000"><rect x="1042" y="430" width="2" height="1"/><rect x="1044" y="429" width="2" height="1"/><rect x="1046" y="428" width="2" height="1"/><rect x="1048" y="427" width="2" height="1"/><rect x="1050" y="426" width="2" height="1"/><rect x="1052" y="425" width="2" height="1"/><rect x="1054" y="424" width="2" height="1"/><rect x="1056" y="423" width="2" height="1"/><rect x="1058" y="422" width="2" height="1"/><rect x="1060" y="421" width="2" height="1"/><rect x="1062" y="420" width="2" height="1"/><rect x="1064" y="419" width="2" height="1"/><rect x="1066" y="418" width="2" height="1"/><rect x="1068" y="417" width="2" height="1"/><rect x="1070" y="416" width="2" height="1"/><rect x="1072" y="415" width="2" height="1"/><rect x="1074" y="414" width="2" height="1"/><rect x="1076" y="413" width="2" height="1"/><rect x="1078" y="412" width="2" height="1"/><rect x="1080" y="411" width="2" height="1"/><rect x="1082" y="410" width="2" height="1"/><rect x="1084" y="409" width="2" height="1"/><rect x="1086" y="408" width="2" height="1"/><rect x="1088" y="407" width="2" height="1"/><rect x="1090" y="406" width="2" height="1"/><rect x="1092" y="405" width="2" height="1"/><rect x="1094" y="404" width="3" height="1"/><rect x="1097" y="403" width="2" height="1"/><rect x="1099" y="402" width="2" height="1"/><rect x="1101" y="401" width="2" height="1"/><rect x="1103" y="400" width="2" height="1"/><rect x="1105" y="399" width="2" height="1"/><rect x="1107" y="398" width="2" height="1"/><rect x="1109" y="397" width="2" height="1"/><rect x="1111" y="396" width="2" height="1"/><rect x="1113" y="395" width="2" height="1"/><rect x="1115" y="394" width="2" height="1"/><rect x="1117" y="393" width="2" height="1"/><rect x="1119" y="392" width="2" height="1"/><rect x="1121" y="391" width="2" height="1"/><rect x="1123" y="390" width="2" height="1"/><rect x="1125" y="389" width="2" height="1"/><rect x="1127" y="388" width="2" height="1"/><rect x="1129" y="387" width="2" height="1"/><rect x="1131" y="386" width="2" height="1"/><rect x="1133" y="385" width="2" height="1"/><rect x="1135" y="384" width="2" height="1"/><rect x="1137" y="383" width="2" height="1"/><rect x="1139" y="382" width="2" height="1"/><rect x="1141" y="381" width="2" height="1"/><rect x="1143" y="380" width="2" height="1"/><rect x="1145" y="379" width="2" height="1"/><rect x="1147" y="378" width="2" height="1"/><rect x="1149" y="377" width="2" height="1"/><rect x="1151" y="376" width="2" height="1"/><rect x="1153" y="375" width="2" height="1"/><rect x="1155" y="374" width="2" height="1"/><rect x="1157" y="373" width="2" height="1"/><rect x="1159" y="372" width="2" height="1"/><rect x="1161" y="371" width="2" height="1"/><rect x="1163" y="370" width="2" height="1"/><rect x="1165" y="369" width="2" height="1"/><rect x="1167" y="368" width="2" height="1"/><rect x="1169" y="367" width="2" height="1"/><rect x="1171" y="366" width="2" height="1"/><rect x="1173" y="365" width="2" height="1"/><rect x="1175" y="364" width="2" height="1"/><rect x="1177" y="363" width="2" height="1"/><rect x="1179" y="362" width="2" height="1"/><rect x="1181" y="361" width="2" height="1"/><rect x="1183" y="360" width="2" height="1"/><rect x="1185" y="359" width="2" height="1"/><rect x="1187" y="358" width="2" height="1"/><rect x="1189" y="357" width="2" height="1"/><rect x="1191" y="356" width="2" height="1"/><rect x="1193" y="355" width="2" height="1"/><rect x="1195" y="354" width="2" height="1"/><rect x="1197" y="353" width="2" height="1"/><rect x="1199" y="352" width="3" height="1"/><rect x="1202" y="351" width="2" height="1"/><rect x="1204" y="350" width="2" height="1"/><rect x="1206" y="349" width="2" height="1"/><rect x="1208" y="348" width="2" height="1"/><rect x="1210" y="347" width="2" height="1"/><rect x="1212" y="346" width="2" height="1"/><rect x="1214" y="345" width="2" height="1"/><rect x="1216" y="344" width="2" height="1"/><rect x="1218" y="343" width="2" height="1"/><rect x="1220" y="342" width="2" height="1"/><rect x="1222" y="341" width="2" height="1"/><rect x="1224" y="340" width="2" height="1"/><rect x="1226" y="339" width="2" height="1"/><rect x="1228" y="338" width="2" height="1"/><rect x="1230" y="337" width="2" height="1"/><rect x="1232" y="336" width="2" height="1"/><rect x="1234" y="335" width="2" height="1"/><rect x="1236" y="334" width="2" height="1"/><rect x="1238" y="333" width="2" height="1"/><rect x="1240" y="332" width="2" height="1"/><rect x="1242" y="331" width="2" height="1"/><rect x="1244" y="330" width="2" height="1"/><rect x="1246" y="329" width="2" height="1"/><rect x="1248" y="328" width="2" height="1"/><rect x="1250" y="327" width="2" height="1"/><rect x="1252" y="326" width="2" height="1"/><rect x="1254" y="325" width="2" height="1"/><rect x="1256" y="324" width="2" height="1"/><rect x="1258" y="323" width="2" height="1"/><rect x="1260" y="322" width="2" height="1"/><rect x="1262" y="321" width="2" height="1"/><rect x="1264" y="320" width="2" height="1"/><rect x="1266" y="319" width="2" height="1"/><rect x="1268" y="318" width="2" height="1"/><rect x="1270" y="317" width="2" height="1"/><rect x="1272" y="316" width="2" height="1"/><rect x="1274" y="315" width="2" height="1"/><rect x="1276" y="314" width="2" height="1"/><rect x="1278" y="313" width="2" height="1"/><rect x="1280" y="312" width="2" height="1"/><rect x="1282" y="311" width="2" height="1"/><rect x="1284" y="310" width="2" height="1"/><rect x="1286" y="309" width="2" height="1"/><rect x="1288" y="308" width="2" height="1"/><rect x="1290" y="307" width="2" height="1"/><rect x="1292" y="306" width="2" height="1"/><rect x="1294" y="305" width="2" height="1"/><rect x="1296" y="304" width="2" height="1"/><rect x="1298" y="303" width="2" height="1"/><rect x="1300" y="302" width="2" height="1"/><rect x="1302" y="301" width="2" height="1"/><rect x="1304" y="300" width="3" height="1"/><rect x="1307" y="299" width="2" height="1"/><rect x="1309" y="298" width="2" height="1"/><rect x="1311" y="297" width="2" height="1"/><rect x="1313" y="296" width="2" height="1"/><rect x="1315" y="295" width="2" height="1"/><rect x="1317" y="294" width="2" height="1"/><rect x="1319" y="293" width="2" height="1"/><rect x="1321" y="292" width="2" height="1"/><rect x="1323" y="291" width="2" height="1"/><rect x="1325" y="290" width="2" height="1"/><rect x="1327" y="289" width="2" height="1"/><rect x="1329" y="288" width="2" height="1"/><rect x="1331" y="287" width="2" height="1"/><rect x="1333" y="286" width="2" height="1"/><rect x="1335" y="285" width="2" height="1"/><rect x="1337" y="284" width="2" height="1"/><rect x="1339" y="283" width="2" height="1"/><rect x="1341" y="282" width="2" height="1"/><rect x="1343" y="281" width="2" height="1"/><rect x="1345" y="280" width="2" height="1"/><rect x="1347" y="279" width="2" height="1"/><rect x="1349" y="278" width="2" height="1"/><rect x="1351" y="277" width="2" height="1"/><rect x="1353" y="276" width="2" height="1"/><rect x="1355" y="275" width="2" height="1"/><rect x="1357" y="274" width="2" height="1"/><rect x="1359" y="273" width="2" height="1"/><rect x="1361" y="272" width="2" height="1"/><rect x="1363" y="271" width="2" height="1"/><rect x="1365" y="270" width="2" height="1"/><rect x="1367" y="269" width="2" height="1"/><rect x="1369" y="268" width="2" height="1"/><rect x="1371" y="267" width="2" height="1"/><rect x="1373" y="266" width="2" height="1"/><rect x="1375" y="265" width="2" height="1"/><rect x="1377" y="264" width="2" height="1"/><rect x="1379" y="263" width="2" height="1"/><rect x="1381" y="262" width="2" height="1"/><rect x="1383" y="261" width="2" height="1"/><rect x="1385" y="260" width="2" height="1"/><rect x="1387" y="259" width="2" height="1"/><rect x="1389" y="258" width="2" height="1"/><rect x="1391" y="257" width="2" height="1"/><rect x="1393" y="256" width="2" height="1"/><rect x="1395" y="255" width="2" height="1"/><rect x="1397" y="254" width="2" height="1"/><rect x="1399" y="253" width="2" height="1"/><rect x="1401" y="252" width="2" height="1"/><rect x="1403" y="251" width="2" height="1"/><rect x="1405" y="250" width="2" height="1"/><rect x="1407" y="249" width="2" height="1"/><rect x="1409" y="248" width="3" height="1"/><rect x="1412" y="247" width="2" height="1"/><rect x="1414" y="246" width="2" height="1"/><rect x="1416" y="245" width="2" height="1"/><rect x="1418" y="244" width="2" height="1"/><rect x="1420" y="243" width="2" height="1"/><rect x="1422" y="242" width="2" height="1"/><rect x="1424" y="241" width="2" height="1"/><rect x="1426" y="240" width="2" height="1"/><rect x="1428" y="239" width="2" height="1"/><rect x="1430" y="238" width="2" height="1"/><rect x="1432" y="237" width="2" height="1"/><rect x="1434" y="236" width="2" height="1"/><rect x="1436" y="235" width="2" height="1"/><rect x="1438" y="234" width="2" height="1"/><rect x="1440" y="233" width="2" height="1"/><rect x="1442" y="232" width="2" height="1"/><rect x="1444" y="231" width="2" height="1"/><rect x="1446" y="230" width="2" height="1"/><rect x="1448" y="229" width="2" height="1"/><rect x="1450" y="228" width="2" height="1"/><rect x="1452" y="227" width="2" height="1"/><rect x="1454" y="226" width="2" height="1"/><rect x="1456" y="225" width="2" height="1"/><rect x="1458" y="224" width="2" height="1"/><rect x="1460" y="223" width="2" height="1"/><rect x="1462" y="222" width="2" height="1"/><rect x="1464" y="221" width="2" height="1"/><rect x="1466" y="220" width="2" height="1"/><rect x="1468" y="219" width="2" height="1"/><rect x="1470" y="218" width="2" height="1"/><rect x="1472" y="217" width="2" height="1"/><rect x="1474" y="216" width="2" height="1"/><rect x="1476" y="215" width="2" height="1"/><rect x="1478" y="214" width="2" height="1"/><rect x="1480" y="213" width="2" height="1"/><rect x="1482" y="212" width="2" height="1"/><rect x="1484" y="211" width="2" height="1"/><rect x="1486" y="210" width="2" height="1"/><rect x="1488" y="209" width="2" height="1"/><rect x="1490" y="208" width="2" height="1"/><rect x="1492" y="207" width="2" height="1"/><rect x="1494" y="206" width="2" height="1"/><rect x="1496" y="205" width="2" height="1"/><rect x="1498" y="204" width="2" height="1"/><rect x="1500" y="203" width="2" height="1"/><rect x="1502" y="202" width="2" height="1"/><rect x="1504" y="201" width="2" height="1"/><rect x="1506" y="200" width="2" height="1"/><rect x="1508" y="199" width="2" height="1"/><rect x="1510" y="198" width="2" height="1"/><rect x="1512" y="197" width="2" height="1"/><rect x="1514" y="196" width="2" height="1"/><rect x="1516" y="195" width="3" height="1"/><rect x="1519" y="194" width="2" height="1"/><rect x="1521" y="193" width="2" height="1"/><rect x="1523" y="192" width="2" height="1"/><rect x="1525" y="191" width="2" height="1"/><rect x="1527" y="190" width="2" height="1"/><rect x="1529" y="189" width="2" height="1"/><rect x="1531" y="188" width="2" height="1"/><rect x="1533" y="187" width="2" height="1"/><rect x="1535" y="186" width="2" height="1"/><rect x="1537" y="185" width="2" height="1"/><rect x="1539" y="184" width="2" height="1"/><rect x="1541" y="183" width="2" height="1"/><rect x="1543" y="182" width="2" height="1"/><rect x="1545" y="181" width="2" height="1"/><rect x="1547" y="180" width="2" height="1"/><rect x="1549" y="179" width="2" height="1"/><rect x="1551" y="178" width="2" height="1"/><rect x="1553" y="177" width="2" height="1"/><rect x="1555" y="176" width="2" height="1"/><rect x="1557" y="175" width="2" height="1"/><rect x="1559" y="174" width="2" height="1"/><rect x="1561" y="173" width="2" height="1"/><rect x="1563" y="172" width="2" height="1"/><rect x="1565" y="171" width="2" height="1"/><rect x="1567" y="170" width="2" height="1"/><rect x="1569" y="169" width="2" height="1"/><rect x="1571" y="168" width="2" height="1"/><rect x="1573" y="167" width="2" height="1"/><rect x="1575" y="166" width="2" height="1"/><rect x="1577" y="165" width="2" height="1"/><rect x="1579" y="164" width="2" height="1"/><rect x="1581" y="163" width="2" height="1"/><rect x="1583" y="162" width="2" height="1"/><rect x="1585" y="161" width="2" height="1"/><rect x="1587" y="160" width="2" height="1"/><rect x="1589" y="159" width="2" height="1"/><rect x="1591" y="158" width="2" height="1"/><rect x="1593" y="157" width="2" height="1"/><rect x="1595" y="156" width="2" height="1"/><rect x="1597" y="155" width="2" height="1"/><rect x="1599" y="154" width="2" height="1"/><rect x="1601" y="153" width="2" height="1"/><rect x="1603" y="152" width="2" height="1"/><rect x="1605" y="151" width="2" height="1"/><rect x="1607" y="150" width="2" height="1"/><rect x="1609" y="149" width="2" height="1"/><rect x="1611" y="148" width="2" height="1"/><rect x="1613" y="147" width="2" height="1"/><rect x="1615" y="146" width="2" height="1"/><rect x="1617" y="145" width="2" height="1"/><rect x="1619" y="144" width="2" height="1"/><rect x="1621" y="143" width="3" height="1"/><rect x="1624" y="142" width="2" height="1"/><rect x="1626" y="141" width="2" height="1"/><rect x="1628" y="140" width="2" height="1"/><rect x="1630" y="139" width="2" height="1"/><rect x="1632" y="138" width="2" height="1"/><rect x="1634" y="137" width="2" height="1"/><rect x="1636" y="136" width="2" height="1"/><rect x="1638" y="135" width="2" height="1"/><rect x="1640" y="134" width="2" height="1"/><rect x="1642" y="133" width="2" height="1"/><rect x="1644" y="132" width="2" height="1"/><rect x="1646" y="131" width="2" height="1"/><rect x="1648" y="130" width="2" height="1"/><rect x="1650" y="129" width="2" height="1"/><rect x="1652" y="128" width="2" height="1"/><rect x="1654" y="127" width="2" height="1"/><rect x="1656" y="126" width="2" height="1"/><rect x="1658" y="125" width="2" height="1"/><rect x="1660" y="124" width="2" height="1"/><rect x="1662" y="123" width="2" height="1"/><rect x="1664" y="122" width="2" height="1"/><rect x="1666" y="121" width="2" height="1"/><rect x="1668" y="120" width="2" height="1"/><rect x="1670" y="119" width="2" height="1"/><rect x="1672" y="118" width="2" height="1"/><rect x="1674" y="117" width="2" height="1"/></g>
<g fill="#000"><rect x="1497" y="77" width="5" height="1"/><rect x="1502" y="78" width="13" height="1"/><rect x="1515" y="79" width="13" height="1"/><rect x="1528" y="80" width="13" height="1"/><rect x="1541" y="81" width="13" height="1"/><rect x="1554" y="82" width="12" height="1"/><rect x="1566" y="83" width="13" height="1"/><rect x="1579" y="84" width="13" height="1"/><rect x="1592" y="85" width="13" height="1"/><rect x="1605" y="86" width="13" height="1"/><rect x="1618" y="87" width="12" height="1"/><rect x="1630" y="88" width="13" height="1"/><rect x="1643" y="89" width="13" height="1"/><rect x="1656" y="90" width="13" height="1"/><rect x="1669" y="91" width="13" height="1"/><rect x="1682" y="92" width="13" height="1"/><rect x="1695" y="93" width="12" height="1"/><rect x="1707" y="94" width="13" height="1"/><rect x="1720" y="95" width="13" height="1"/><rect x="1733" y="96" width="13" height="1"/><rect x="1746" y="97" width="13" height="1"/><rect x="1759" y="98" width="12" height="1"/><rect x="1771" y="99" width="13" height="1"/><rect x="1784" y="100" width="13" height="1"/><rect x="1797" y="101" width="1" height="1"/></g>
</g>
<g shape-rendering="crispEdges" fill="#000">
<rect x="2" y="467" width="1" height="6"/><rect x="1" y="468" width="4" height="1"/>
<rect x="7" y="465" width="1" height="16"/>
<rect x="6" y="465" width="4" height="16"/>
<rect x="12" y="462" width="1" height="2"/>
<rect x="12" y="477" width="1" height="4"/>
<rect x="11" y="464" width="4" height="13"/>
<rect x="12" y="465" width="2" height="11" fill="#fff"/>
<rect x="17" y="465" width="1" height="16"/>
<rect x="16" y="465" width="4" height="16"/>
<rect x="22" y="478" width="1" height="19"/>
<rect x="21" y="479" width="4" height="17"/>
<rect x="27" y="493" width="1" height="3"/>
<rect x="26" y="487" width="4" height="6"/>
<rect x="27" y="488" width="2" height="4" fill="#fff"/>
<rect x="32" y="478" width="1" height="8"/>
<rect x="31" y="481" width="4" height="3"/>
<rect x="36" y="480" width="1" height="13"/>
<rect x="35" y="481" width="4" height="10"/>
<rect x="42" y="491" width="1" height="2"/>
<rect x="41" y="481" width="4" height="10"/>
<rect x="42" y="482" width="2" height="8" fill="#fff"/>
<rect x="47" y="478" width="1" height="10"/><rect x="46" y="484" width="4" height="1"/>
<rect x="51" y="469" width="4" height="14"/>
<rect x="52" y="470" width="2" height="12" fill="#fff"/>
<rect x="57" y="469" width="1" height="9"/>
<rect x="56" y="469" width="4" height="7"/>
<rect x="62" y="473" width="1" height="11"/>
<rect x="61" y="473" width="4" height="10"/>
<rect x="67" y="479" width="1" height="10"/>
<rect x="66" y="479" width="4" height="10"/>
<rect x="72" y="487" width="1" height="7"/>
<rect x="71" y="489" width="4" height="5"/>
<rect x="77" y="477" width="1" height="1"/>
<rect x="76" y="478" width="4" height="5"/>
<rect x="77" y="479" width="2" height="3" fill="#fff"/>
<rect x="82" y="480" width="1" height="8"/><rect x="81" y="483" width="4" height="1"/>
<rect x="87" y="475" width="1" height="6"/><rect x="86" y="478" width="4" height="1"/>
<rect x="92" y="472" width="1" height="9"/><rect x="91" y="480" width="4" height="1"/>
<rect x="97" y="473" width="1" height="16"/>
<rect x="96" y="477" width="4" height="10"/>
<rect x="102" y="470" width="1" height="4"/>
<rect x="102" y="485" width="1" height="1"/>
<rect x="101" y="474" width="4" height="11"/>
<rect x="102" y="475" width="2" height="9" fill="#fff"/>
<rect x="107" y="474" width="1" height="7"/><rect x="106" y="478" width="4" height="1"/>
<rect x="112" y="471" width="1" height="1"/>
<rect x="112" y="476" width="1" height="5"/>
<rect x="111" y="472" width="4" height="4"/>
<rect x="112" y="473" width="2" height="2" fill="#fff"/>
<rect x="117" y="471" width="1" height="9"/><rect x="116" y="474" width="4" height="1"/>
<rect x="122" y="467" width="1" height="2"/>
<rect x="121" y="469" width="4" height="5"/>
<rect x="122" y="470" width="2" height="3" fill="#fff"/>
<rect x="127" y="464" width="1" height="1"/>
<rect x="127" y="470" width="1" height="3"/>
<rect x="126" y="465" width="4" height="5"/>
<rect x="127" y="466" width="2" height="3" fill="#fff"/>
<rect x="132" y="461" width="1" height="1"/>
<rect x="132" y="469" width="1" height="3"/>
<rect x="131" y="462" width="4" height="7"/>
<rect x="132" y="463" width="2" height="5" fill="#fff"/>
<rect x="137" y="462" width="1" height="5"/>
<rect x="136" y="462" width="4" height="5"/>
<rect x="142" y="462" width="1" height="10"/>
<rect x="141" y="466" width="4" height="3"/>
<rect x="147" y="466" width="1" height="8"/><rect x="146" y="469" width="4" height="1"/>
<rect x="152" y="457" width="1" height="1"/>
<rect x="152" y="464" width="1" height="3"/>
<rect x="151" y="458" width="4" height="6"/>
<rect x="152" y="459" width="2" height="4" fill="#fff"/>
<rect x="157" y="456" width="1" height="8"/><rect x="156" y="458" width="4" height="1"/>
<rect x="162" y="459" width="1" height="5"/>
<rect x="161" y="459" width="4" height="2"/>
<rect x="167" y="469" width="1" height="7"/>
<rect x="166" y="464" width="4" height="5"/>
<rect x="167" y="465" width="2" height="3" fill="#fff"/>
<rect x="172" y="459" width="1" height="2"/>
<rect x="172" y="468" width="1" height="1"/>
<rect x="171" y="461" width="4" height="7"/>
<rect x="172" y="462" width="2" height="5" fill="#fff"/>
<rect x="177" y="459" width="1" height="5"/>
<rect x="176" y="462" width="4" height="2"/>
<rect x="182" y="460" width="1" height="1"/>
<rect x="181" y="451" width="4" height="9"/>
<rect x="182" y="452" width="2" height="7" fill="#fff"/>
<rect x="187" y="452" width="1" height="9"/>
<rect x="186" y="454" width="4" height="5"/>
<rect x="192" y="461" width="1" height="34"/>
<rect x="191" y="461" width="4" height="34"/>
<rect x="197" y="502" width="1" height="10"/>
<rect x="196" y="506" width="4" height="3"/>
<rect x="202" y="522" width="1" height="3"/>
<rect x="202" y="537" width="1" height="14"/>
<rect x="201" y="525" width="4" height="12"/>
<rect x="202" y="526" width="2" height="10" fill="#fff"/>
<rect x="207" y="518" width="1" height="16"/>
<rect x="206" y="518" width="4" height="9"/>
<rect x="212" y="507" width="1" height="2"/>
<rect x="212" y="519" width="1" height="5"/>
<rect x="211" y="509" width="4" height="10"/>
<rect x="212" y="510" width="2" height="8" fill="#fff"/>
<rect x="217" y="511" width="1" height="10"/>
<rect x="216" y="513" width="4" height="3"/>
<rect x="222" y="500" width="1" height="5"/>
<rect x="222" y="514" width="1" height="2"/>
<rect x="221" y="505" width="4" height="9"/>
<rect x="222" y="506" width="2" height="7" fill="#fff"/>
<rect x="227" y="493" width="1" height="8"/>
<rect x="226" y="498" width="4" height="2"/>
<rect x="232" y="489" width="1" height="6"/><rect x="231" y="492" width="4" height="1"/>
<rect x="237" y="487" width="1" height="4"/>
<rect x="236" y="488" width="4" height="2"/>
<rect x="242" y="472" width="1" height="8"/><rect x="241" y="474" width="4" height="1"/>
<rect x="246" y="468" width="1" height="2"/>
<rect x="246" y="473" width="1" height="2"/>
<rect x="245" y="470" width="4" height="3"/>
<rect x="246" y="471" width="2" height="1" fill="#fff"/>
<rect x="252" y="461" width="1" height="11"/>
<rect x="251" y="467" width="4" height="5"/>
<rect x="257" y="467" width="1" height="6"/>
<rect x="256" y="469" width="4" height="4"/>
<rect x="262" y="469" width="1" height="4"/>
<rect x="261" y="471" width="4" height="2"/>
<rect x="267" y="465" width="1" height="1"/>
<rect x="267" y="469" width="1" height="3"/>
<rect x="266" y="466" width="4" height="3"/>
<rect x="267" y="467" width="2" height="1" fill="#fff"/>
<rect x="272" y="467" width="1" height="5"/>
<rect x="271" y="470" width="4" height="1"/>
<rect x="276" y="467" width="4" height="6"/>
<rect x="277" y="468" width="2" height="4" fill="#fff"/>
<rect x="281" y="462" width="4" height="3"/>
<rect x="282" y="463" width="2" height="1" fill="#fff"/>
<rect x="287" y="457" width="1" height="1"/>
<rect x="286" y="458" width="4" height="5"/>
<rect x="287" y="459" width="2" height="3" fill="#fff"/>
<rect x="292" y="456" width="1" height="2"/>
<rect x="291" y="453" width="4" height="3"/>
<rect x="292" y="454" width="2" height="1" fill="#fff"/>
<rect x="297" y="443" width="1" height="6"/>
<rect x="296" y="449" width="4" height="3"/>
<rect x="297" y="450" width="2" height="1" fill="#fff"/>
<rect x="302" y="447" width="1" height="18"/>
<rect x="301" y="449" width="4" height="14"/>
<rect x="307" y="454" width="1" height="2"/>
<rect x="307" y="472" width="1" height="2"/>
<rect x="306" y="456" width="4" height="16"/>
<rect x="307" y="457" width="2" height="14" fill="#fff"/>
<rect x="312" y="446" width="1" height="6"/>
<rect x="311" y="452" width="4" height="10"/>
<rect x="312" y="453" width="2" height="8" fill="#fff"/>
<rect x="317" y="447" width="1" height="15"/>
<rect x="316" y="455" width="4" height="5"/>
<rect x="322" y="449" width="1" height="3"/>
<rect x="321" y="452" width="4" height="3"/>
<rect x="322" y="453" width="2" height="1" fill="#fff"/>
<rect x="327" y="449" width="1" height="11"/>
<rect x="326" y="451" width="4" height="9"/>
<rect x="332" y="456" width="1" height="13"/>
<rect x="331" y="457" width="4" height="10"/>
<rect x="337" y="455" width="1" height="10"/><rect x="336" y="456" width="4" height="1"/>
<rect x="342" y="456" width="1" height="7"/><rect x="341" y="459" width="4" height="1"/>
<rect x="346" y="455" width="4" height="9"/>
<rect x="347" y="456" width="2" height="7" fill="#fff"/>
<rect x="352" y="451" width="1" height="1"/>
<rect x="352" y="455" width="1" height="1"/>
<rect x="351" y="452" width="4" height="3"/>
<rect x="352" y="453" width="2" height="1" fill="#fff"/>
<rect x="357" y="449" width="1" height="6"/>
<rect x="356" y="451" width="4" height="1"/>
<rect x="362" y="446" width="1" height="5"/>
<rect x="361" y="440" width="4" height="6"/>
<rect x="362" y="441" width="2" height="4" fill="#fff"/>
<rect x="367" y="436" width="1" height="3"/>
<rect x="367" y="442" width="1" height="3"/>
<rect x="366" y="439" width="4" height="3"/>
<rect x="367" y="440" width="2" height="1" fill="#fff"/>
<rect x="372" y="435" width="1" height="11"/>
<rect x="371" y="435" width="4" height="11"/>
<rect x="377" y="436" width="1" height="6"/>
<rect x="376" y="442" width="4" height="3"/>
<rect x="377" y="443" width="2" height="1" fill="#fff"/>
<rect x="382" y="441" width="1" height="2"/>
<rect x="382" y="446" width="1" height="2"/>
<rect x="381" y="443" width="4" height="3"/>
<rect x="382" y="444" width="2" height="1" fill="#fff"/>
<rect x="387" y="426" width="1" height="2"/>
<rect x="386" y="428" width="4" height="13"/>
<rect x="387" y="429" width="2" height="11" fill="#fff"/>
<rect x="392" y="424" width="1" height="4"/><rect x="391" y="427" width="4" height="1"/>
<rect x="397" y="427" width="1" height="11"/>
<rect x="396" y="430" width="4" height="7"/>
<rect x="402" y="433" width="1" height="13"/>
<rect x="401" y="433" width="4" height="12"/>
<rect x="407" y="443" width="1" height="1"/>
<rect x="407" y="447" width="1" height="4"/>
<rect x="406" y="444" width="4" height="3"/>
<rect x="407" y="445" width="2" height="1" fill="#fff"/>
<rect x="412" y="447" width="1" height="12"/>
<rect x="411" y="449" width="4" height="9"/>
<rect x="417" y="448" width="1" height="2"/>
<rect x="416" y="450" width="4" height="7"/>
<rect x="417" y="451" width="2" height="5" fill="#fff"/>
<rect x="422" y="443" width="1" height="11"/>
<rect x="421" y="446" width="4" height="2"/>
<rect x="427" y="449" width="1" height="3"/>
<rect x="426" y="444" width="4" height="5"/>
<rect x="427" y="445" width="2" height="3" fill="#fff"/>
<rect x="432" y="443" width="1" height="5"/>
<rect x="431" y="440" width="4" height="3"/>
<rect x="432" y="441" width="2" height="1" fill="#fff"/>
<rect x="437" y="438" width="1" height="6"/>
<rect x="436" y="441" width="4" height="2"/>
<rect x="442" y="438" width="1" height="2"/>
<rect x="441" y="440" width="4" height="5"/>
<rect x="442" y="441" width="2" height="3" fill="#fff"/>
<rect x="447" y="437" width="1" height="1"/>
<rect x="447" y="441" width="1" height="2"/>
<rect x="446" y="438" width="4" height="3"/>
<rect x="447" y="439" width="2" height="1" fill="#fff"/>
<rect x="452" y="431" width="1" height="8"/><rect x="451" y="435" width="4" height="1"/>
<rect x="457" y="430" width="1" height="3"/>
<rect x="457" y="437" width="1" height="2"/>
<rect x="456" y="433" width="4" height="4"/>
<rect x="457" y="434" width="2" height="2" fill="#fff"/>
<rect x="462" y="424" width="1" height="2"/>
<rect x="461" y="426" width="4" height="8"/>
<rect x="462" y="427" width="2" height="6" fill="#fff"/>
<rect x="466" y="420" width="4" height="9"/>
<rect x="467" y="421" width="2" height="7" fill="#fff"/>
<rect x="472" y="419" width="1" height="9"/>
<rect x="471" y="423" width="4" height="5"/>
<rect x="477" y="425" width="1" height="9"/>
<rect x="476" y="425" width="4" height="5"/>
<rect x="482" y="428" width="1" height="6"/>
<rect x="481" y="429" width="4" height="5"/>
<rect x="487" y="431" width="1" height="5"/>
<rect x="486" y="433" width="4" height="3"/>
<rect x="492" y="432" width="1" height="5"/>
<rect x="491" y="435" width="4" height="2"/>
<rect x="497" y="428" width="1" height="1"/>
<rect x="497" y="433" width="1" height="5"/>
<rect x="496" y="429" width="4" height="4"/>
<rect x="497" y="430" width="2" height="2" fill="#fff"/>
<rect x="502" y="421" width="1" height="7"/><rect x="501" y="425" width="4" height="1"/>
<rect x="507" y="427" width="1" height="9"/><rect x="506" y="428" width="4" height="1"/>
<rect x="512" y="426" width="1" height="7"/>
<rect x="511" y="433" width="4" height="4"/>
<rect x="512" y="434" width="2" height="2" fill="#fff"/>
<rect x="517" y="428" width="1" height="3"/>
<rect x="516" y="431" width="4" height="3"/>
<rect x="517" y="432" width="2" height="1" fill="#fff"/>
<rect x="522" y="429" width="1" height="5"/>
<rect x="521" y="432" width="4" height="2"/>
<rect x="526" y="426" width="4" height="7"/>
<rect x="527" y="427" width="2" height="5" fill="#fff"/>
<rect x="532" y="411" width="1" height="16"/>
<rect x="531" y="424" width="4" height="3"/>
<rect x="537" y="411" width="1" height="27"/>
<rect x="536" y="421" width="4" height="5"/>
<rect x="542" y="418" width="1" height="13"/><rect x="541" y="418" width="4" height="1"/>
<rect x="547" y="404" width="1" height="3"/>
<rect x="547" y="412" width="1" height="1"/>
<rect x="546" y="407" width="4" height="5"/>
<rect x="547" y="408" width="2" height="3" fill="#fff"/>
<rect x="552" y="411" width="1" height="7"/>
<rect x="551" y="411" width="4" height="7"/>
<rect x="557" y="417" width="1" height="10"/><rect x="556" y="421" width="4" height="1"/>
<rect x="562" y="422" width="1" height="3"/>
<rect x="561" y="414" width="4" height="8"/>
<rect x="562" y="415" width="2" height="6" fill="#fff"/>
<rect x="567" y="417" width="1" height="5"/><rect x="566" y="420" width="4" height="1"/>
<rect x="572" y="437" width="1" height="6"/>
<rect x="571" y="434" width="4" height="3"/>
<rect x="572" y="435" width="2" height="1" fill="#fff"/>
<rect x="577" y="431" width="1" height="30"/>
<rect x="576" y="433" width="4" height="21"/>
<rect x="582" y="448" width="1" height="6"/>
<rect x="581" y="449" width="4" height="5"/>
<rect x="587" y="451" width="1" height="2"/>
<rect x="587" y="456" width="1" height="8"/>
<rect x="586" y="453" width="4" height="3"/>
<rect x="587" y="454" width="2" height="1" fill="#fff"/>
<rect x="592" y="447" width="1" height="14"/>
<rect x="591" y="449" width="4" height="2"/>
<rect x="597" y="443" width="1" height="14"/>
<rect x="596" y="444" width="4" height="7"/>
<rect x="602" y="452" width="1" height="8"/>
<rect x="601" y="455" width="4" height="4"/>
<rect x="607" y="460" width="1" height="9"/><rect x="606" y="461" width="4" height="1"/>
<rect x="612" y="456" width="1" height="5"/><rect x="611" y="456" width="4" height="1"/>
<rect x="617" y="456" width="1" height="7"/>
<rect x="616" y="456" width="4" height="3"/>
<rect x="622" y="451" width="1" height="9"/>
<rect x="621" y="460" width="4" height="3"/>
<rect x="622" y="461" width="2" height="1" fill="#fff"/>
<rect x="626" y="451" width="4" height="7"/>
<rect x="627" y="452" width="2" height="5" fill="#fff"/>
<rect x="632" y="439" width="1" height="1"/>
<rect x="631" y="440" width="4" height="9"/>
<rect x="632" y="441" width="2" height="7" fill="#fff"/>
<rect x="636" y="431" width="4" height="9"/>
<rect x="637" y="432" width="2" height="7" fill="#fff"/>
<rect x="642" y="427" width="1" height="7"/>
<rect x="641" y="429" width="4" height="2"/>
<rect x="647" y="428" width="1" height="5"/>
<rect x="646" y="428" width="4" height="5"/>
<rect x="652" y="433" width="1" height="5"/>
<rect x="651" y="434" width="4" height="2"/>
<rect x="656" y="429" width="4" height="8"/>
<rect x="657" y="430" width="2" height="6" fill="#fff"/>
<rect x="662" y="426" width="1" height="2"/>
<rect x="662" y="431" width="1" height="1"/>
<rect x="661" y="428" width="4" height="3"/>
<rect x="662" y="429" width="2" height="1" fill="#fff"/>
<rect x="666" y="420" width="4" height="6"/>
<rect x="667" y="421" width="2" height="4" fill="#fff"/>
<rect x="672" y="413" width="1" height="4"/>
<rect x="671" y="417" width="4" height="3"/>
<rect x="672" y="418" width="2" height="1" fill="#fff"/>
<rect x="677" y="416" width="1" height="8"/>
<rect x="676" y="418" width="4" height="3"/>
<rect x="682" y="420" width="1" height="6"/><rect x="681" y="423" width="4" height="1"/>
<rect x="687" y="428" width="1" height="10"/>
<rect x="686" y="428" width="4" height="5"/>
<rect x="692" y="439" width="1" height="7"/>
<rect x="691" y="435" width="4" height="4"/>
<rect x="692" y="436" width="2" height="2" fill="#fff"/>
<rect x="697" y="432" width="1" height="2"/>
<rect x="696" y="434" width="4" height="6"/>
<rect x="697" y="435" width="2" height="4" fill="#fff"/>
<rect x="702" y="430" width="1" height="2"/>
<rect x="702" y="435" width="1" height="3"/>
<rect x="701" y="432" width="4" height="3"/>
<rect x="702" y="433" width="2" height="1" fill="#fff"/>
<rect x="707" y="425" width="1" height="2"/>
<rect x="707" y="434" width="1" height="2"/>
<rect x="706" y="427" width="4" height="7"/>
<rect x="707" y="428" width="2" height="5" fill="#fff"/>
<rect x="712" y="424" width="1" height="17"/>
<rect x="711" y="424" width="4" height="4"/>
<rect x="717" y="426" width="1" height="4"/>
<rect x="716" y="428" width="4" height="2"/>
<rect x="722" y="425" width="1" height="4"/>
<rect x="721" y="416" width="4" height="9"/>
<rect x="722" y="417" width="2" height="7" fill="#fff"/>
<rect x="727" y="413" width="1" height="11"/><rect x="726" y="415" width="4" height="1"/>
<rect x="732" y="389" width="1" height="2"/>
<rect x="732" y="412" width="1" height="1"/>
<rect x="731" y="391" width="4" height="21"/>
<rect x="732" y="392" width="2" height="19" fill="#fff"/>
<rect x="737" y="393" width="1" height="2"/>
<rect x="736" y="383" width="4" height="10"/>
<rect x="737" y="384" width="2" height="8" fill="#fff"/>
<rect x="742" y="382" width="1" height="7"/>
<rect x="741" y="383" width="4" height="6"/>
<rect x="747" y="392" width="1" height="10"/>
<rect x="746" y="393" width="4" height="2"/>
<rect x="752" y="386" width="1" height="7"/><rect x="751" y="389" width="4" height="1"/>
<rect x="757" y="377" width="1" height="1"/>
<rect x="757" y="384" width="1" height="2"/>
<rect x="756" y="378" width="4" height="6"/>
<rect x="757" y="379" width="2" height="4" fill="#fff"/>
<rect x="762" y="371" width="1" height="6"/>
<rect x="761" y="372" width="4" height="5"/>
<rect x="767" y="363" width="1" height="3"/>
<rect x="766" y="366" width="4" height="10"/>
<rect x="767" y="367" width="2" height="8" fill="#fff"/>
<rect x="772" y="357" width="1" height="7"/><rect x="771" y="361" width="4" height="1"/>
<rect x="777" y="356" width="1" height="1"/>
<rect x="776" y="348" width="4" height="8"/>
<rect x="777" y="349" width="2" height="6" fill="#fff"/>
<rect x="782" y="347" width="1" height="9"/>
<rect x="781" y="349" width="4" height="7"/>
<rect x="786" y="348" width="4" height="6"/>
<rect x="787" y="349" width="2" height="4" fill="#fff"/>
<rect x="792" y="343" width="1" height="16"/>
<rect x="791" y="345" width="4" height="13"/>
<rect x="796" y="353" width="1" height="11"/><rect x="795" y="357" width="4" height="1"/>
<rect x="802" y="351" width="1" height="2"/>
<rect x="802" y="357" width="1" height="4"/>
<rect x="801" y="353" width="4" height="4"/>
<rect x="802" y="354" width="2" height="2" fill="#fff"/>
<rect x="807" y="348" width="1" height="6"/><rect x="806" y="351" width="4" height="1"/>
<rect x="812" y="344" width="1" height="3"/>
<rect x="811" y="347" width="4" height="3"/>
<rect x="812" y="348" width="2" height="1" fill="#fff"/>
<rect x="816" y="341" width="4" height="4"/>
<rect x="817" y="342" width="2" height="2" fill="#fff"/>
<rect x="821" y="343" width="4" height="9"/>
<rect x="822" y="344" width="2" height="7" fill="#fff"/>
<rect x="827" y="339" width="1" height="10"/><rect x="826" y="339" width="4" height="1"/>
<rect x="832" y="331" width="1" height="6"/><rect x="831" y="334" width="4" height="1"/>
<rect x="837" y="312" width="1" height="1"/>
<rect x="837" y="330" width="1" height="1"/>
<rect x="836" y="313" width="4" height="17"/>
<rect x="837" y="314" width="2" height="15" fill="#fff"/>
<rect x="842" y="306" width="1" height="15"/>
<rect x="841" y="306" width="4" height="8"/>
<rect x="847" y="307" width="1" height="7"/><rect x="846" y="313" width="4" height="1"/>
<rect x="852" y="304" width="1" height="4"/>
<rect x="852" y="312" width="1" height="1"/>
<rect x="851" y="308" width="4" height="4"/>
<rect x="852" y="309" width="2" height="2" fill="#fff"/>
<rect x="857" y="293" width="1" height="8"/>
<rect x="857" y="305" width="1" height="1"/>
<rect x="856" y="301" width="4" height="4"/>
<rect x="857" y="302" width="2" height="2" fill="#fff"/>
<rect x="862" y="297" width="1" height="8"/><rect x="861" y="300" width="4" height="1"/>
<rect x="867" y="301" width="1" height="5"/><rect x="866" y="303" width="4" height="1"/>
<rect x="872" y="297" width="1" height="3"/>
<rect x="871" y="300" width="4" height="3"/>
<rect x="872" y="301" width="2" height="1" fill="#fff"/>
<rect x="876" y="293" width="4" height="6"/>
<rect x="877" y="294" width="2" height="4" fill="#fff"/>
<rect x="882" y="286" width="1" height="17"/>
<rect x="881" y="291" width="4" height="12"/>
<rect x="887" y="299" width="1" height="17"/>
<rect x="886" y="303" width="4" height="10"/>
<rect x="892" y="308" width="1" height="7"/>
<rect x="891" y="309" width="4" height="2"/>
<rect x="897" y="306" width="1" height="6"/>
<rect x="897" y="315" width="1" height="2"/>
<rect x="896" y="312" width="4" height="3"/>
<rect x="897" y="313" width="2" height="1" fill="#fff"/>
<rect x="902" y="307" width="1" height="1"/>
<rect x="901" y="308" width="4" height="6"/>
<rect x="902" y="309" width="2" height="4" fill="#fff"/>
<rect x="907" y="306" width="1" height="1"/>
<rect x="906" y="294" width="4" height="12"/>
<rect x="907" y="295" width="2" height="10" fill="#fff"/>
<rect x="912" y="299" width="1" height="10"/><rect x="911" y="304" width="4" height="1"/>
<rect x="917" y="304" width="1" height="7"/><rect x="916" y="308" width="4" height="1"/>
<rect x="921" y="293" width="1" height="2"/>
<rect x="921" y="306" width="1" height="11"/>
<rect x="920" y="295" width="4" height="11"/>
<rect x="921" y="296" width="2" height="9" fill="#fff"/>
<rect x="927" y="298" width="1" height="36"/>
<rect x="926" y="303" width="4" height="23"/>
<rect x="932" y="308" width="1" height="12"/><rect x="931" y="314" width="4" height="1"/>
<rect x="937" y="306" width="1" height="8"/>
<rect x="936" y="297" width="4" height="9"/>
<rect x="937" y="298" width="2" height="7" fill="#fff"/>
<rect x="942" y="286" width="1" height="5"/>
<rect x="942" y="303" width="1" height="4"/>
<rect x="941" y="291" width="4" height="12"/>
<rect x="942" y="292" width="2" height="10" fill="#fff"/>
<rect x="947" y="286" width="1" height="24"/>
<rect x="946" y="286" width="4" height="21"/>
<rect x="952" y="303" width="1" height="20"/>
<rect x="951" y="303" width="4" height="16"/>
<rect x="956" y="297" width="4" height="15"/>
<rect x="957" y="298" width="2" height="13" fill="#fff"/>
<rect x="962" y="293" width="1" height="7"/>
<rect x="962" y="303" width="1" height="4"/>
<rect x="961" y="300" width="4" height="3"/>
<rect x="962" y="301" width="2" height="1" fill="#fff"/>
<rect x="967" y="283" width="1" height="2"/>
<rect x="967" y="303" width="1" height="1"/>
<rect x="966" y="285" width="4" height="18"/>
<rect x="967" y="286" width="2" height="16" fill="#fff"/>
<rect x="972" y="283" width="1" height="9"/>
<rect x="971" y="274" width="4" height="9"/>
<rect x="972" y="275" width="2" height="7" fill="#fff"/>
<rect x="977" y="257" width="1" height="1"/>
<rect x="976" y="258" width="4" height="16"/>
<rect x="977" y="259" width="2" height="14" fill="#fff"/>
<rect x="982" y="248" width="1" height="4"/>
<rect x="982" y="263" width="1" height="1"/>
<rect x="981" y="252" width="4" height="11"/>
<rect x="982" y="253" width="2" height="9" fill="#fff"/>
<rect x="987" y="248" width="1" height="18"/>
<rect x="986" y="249" width="4" height="5"/>
<rect x="992" y="244" width="1" height="6"/>
<rect x="992" y="261" width="1" height="2"/>
<rect x="991" y="250" width="4" height="11"/>
<rect x="992" y="251" width="2" height="9" fill="#fff"/>
<rect x="997" y="222" width="1" height="11"/>
<rect x="996" y="229" width="4" height="4"/>
<rect x="1002" y="209" width="1" height="5"/>
<rect x="1001" y="214" width="4" height="17"/>
<rect x="1002" y="215" width="2" height="15" fill="#fff"/>
<rect x="1007" y="200" width="1" height="11"/>
<rect x="1006" y="204" width="4" height="5"/>
<rect x="1012" y="205" width="1" height="6"/>
<rect x="1012" y="214" width="1" height="7"/>
<rect x="1011" y="211" width="4" height="3"/>
<rect x="1012" y="212" width="2" height="1" fill="#fff"/>
<rect x="1017" y="209" width="1" height="14"/>
<rect x="1016" y="212" width="4" height="5"/>
<rect x="1022" y="224" width="1" height="20"/>
<rect x="1021" y="226" width="4" height="11"/>
<rect x="1027" y="223" width="1" height="4"/>
<rect x="1027" y="233" width="1" height="3"/>
<rect x="1026" y="227" width="4" height="6"/>
<rect x="1027" y="228" width="2" height="4" fill="#fff"/>
<rect x="1032" y="225" width="1" height="27"/><rect x="1031" y="233" width="4" height="1"/>
<rect x="1037" y="248" width="1" height="32"/>
<rect x="1036" y="251" width="4" height="29"/>
<rect x="1042" y="281" width="1" height="93"/>
<rect x="1041" y="286" width="4" height="71"/>
<rect x="1046" y="352" width="1" height="40"/>
<rect x="1046" y="420" width="1" height="8"/>
<rect x="1045" y="392" width="4" height="28"/>
<rect x="1046" y="393" width="2" height="26" fill="#fff"/>
<rect x="1052" y="344" width="1" height="11"/>
<rect x="1052" y="373" width="1" height="11"/>
<rect x="1051" y="355" width="4" height="18"/>
<rect x="1052" y="356" width="2" height="16" fill="#fff"/>
<rect x="1057" y="365" width="1" height="34"/>
<rect x="1056" y="378" width="4" height="6"/>
<rect x="1062" y="286" width="1" height="63"/>
<rect x="1061" y="286" width="4" height="63"/>
<rect x="1067" y="342" width="1" height="32"/>
<rect x="1066" y="343" width="4" height="16"/>
<rect x="1072" y="323" width="1" height="5"/>
<rect x="1072" y="336" width="1" height="10"/>
<rect x="1071" y="328" width="4" height="8"/>
<rect x="1072" y="329" width="2" height="6" fill="#fff"/>
<rect x="1077" y="304" width="1" height="3"/>
<rect x="1076" y="307" width="4" height="19"/>
<rect x="1077" y="308" width="2" height="17" fill="#fff"/>
<rect x="1082" y="312" width="1" height="12"/>
<rect x="1081" y="314" width="4" height="3"/>
<rect x="1087" y="317" width="1" height="19"/>
<rect x="1086" y="324" width="4" height="3"/>
<rect x="1091" y="359" width="1" height="27"/>
<rect x="1090" y="364" width="4" height="14"/>
<rect x="1097" y="363" width="1" height="10"/>
<rect x="1096" y="358" width="4" height="5"/>
<rect x="1097" y="359" width="2" height="3" fill="#fff"/>
<rect x="1102" y="346" width="1" height="5"/>
<rect x="1101" y="351" width="4" height="10"/>
<rect x="1102" y="352" width="2" height="8" fill="#fff"/>
<rect x="1107" y="330" width="1" height="3"/>
<rect x="1107" y="342" width="1" height="4"/>
<rect x="1106" y="333" width="4" height="9"/>
<rect x="1107" y="334" width="2" height="7" fill="#fff"/>
<rect x="1112" y="321" width="1" height="5"/>
<rect x="1111" y="326" width="4" height="3"/>
<rect x="1112" y="327" width="2" height="1" fill="#fff"/>
<rect x="1117" y="321" width="1" height="8"/><rect x="1116" y="326" width="4" height="1"/>
<rect x="1122" y="321" width="1" height="26"/>
<rect x="1121" y="324" width="4" height="10"/>
<rect x="1127" y="326" width="1" height="7"/>
<rect x="1126" y="314" width="4" height="12"/>
<rect x="1127" y="315" width="2" height="10" fill="#fff"/>
<rect x="1131" y="307" width="1" height="4"/>
<rect x="1131" y="314" width="1" height="5"/>
<rect x="1130" y="311" width="4" height="3"/>
<rect x="1131" y="312" width="2" height="1" fill="#fff"/>
<rect x="1137" y="303" width="1" height="11"/><rect x="1136" y="307" width="4" height="1"/>
<rect x="1142" y="297" width="1" height="2"/>
<rect x="1142" y="307" width="1" height="1"/>
<rect x="1141" y="299" width="4" height="8"/>
<rect x="1142" y="300" width="2" height="6" fill="#fff"/>
<rect x="1147" y="268" width="1" height="12"/>
<rect x="1147" y="296" width="1" height="5"/>
<rect x="1146" y="280" width="4" height="16"/>
<rect x="1147" y="281" width="2" height="14" fill="#fff"/>
<rect x="1152" y="271" width="1" height="12"/><rect x="1151" y="272" width="4" height="1"/>
<rect x="1157" y="256" width="1" height="19"/>
<rect x="1156" y="262" width="4" height="7"/>
<rect x="1162" y="252" width="1" height="6"/>
<rect x="1162" y="264" width="1" height="3"/>
<rect x="1161" y="258" width="4" height="6"/>
<rect x="1162" y="259" width="2" height="4" fill="#fff"/>
<rect x="1167" y="247" width="1" height="3"/>
<rect x="1167" y="253" width="1" height="7"/>
<rect x="1166" y="250" width="4" height="3"/>
<rect x="1167" y="251" width="2" height="1" fill="#fff"/>
<rect x="1172" y="243" width="1" height="2"/>
<rect x="1171" y="245" width="4" height="11"/>
<rect x="1172" y="246" width="2" height="9" fill="#fff"/>
<rect x="1177" y="238" width="1" height="1"/>
<rect x="1177" y="244" width="1" height="2"/>
<rect x="1176" y="239" width="4" height="5"/>
<rect x="1177" y="240" width="2" height="3" fill="#fff"/>
<rect x="1182" y="229" width="1" height="4"/>
<rect x="1182" y="238" width="1" height="1"/>
<rect x="1181" y="233" width="4" height="5"/>
<rect x="1182" y="234" width="2" height="3" fill="#fff"/>
<rect x="1187" y="218" width="1" height="15"/><rect x="1186" y="230" width="4" height="1"/>
<rect x="1192" y="214" width="1" height="5"/>
<rect x="1192" y="226" width="1" height="3"/>
<rect x="1191" y="219" width="4" height="7"/>
<rect x="1192" y="220" width="2" height="5" fill="#fff"/>
<rect x="1197" y="219" width="1" height="14"/>
<rect x="1196" y="223" width="4" height="4"/>
<rect x="1202" y="211" width="1" height="45"/>
<rect x="1201" y="223" width="4" height="19"/>
<rect x="1207" y="226" width="1" height="16"/>
<rect x="1206" y="226" width="4" height="13"/>
<rect x="1212" y="232" width="1" height="20"/>
<rect x="1211" y="233" width="4" height="11"/>
<rect x="1217" y="236" width="1" height="11"/>
<rect x="1216" y="244" width="4" height="3"/>
<rect x="1222" y="234" width="1" height="18"/>
<rect x="1221" y="238" width="4" height="14"/>
<rect x="1227" y="238" width="1" height="16"/><rect x="1226" y="249" width="4" height="1"/>
<rect x="1232" y="248" width="1" height="15"/><rect x="1231" y="249" width="4" height="1"/>
<rect x="1237" y="244" width="1" height="15"/>
<rect x="1236" y="244" width="4" height="5"/>
<rect x="1242" y="245" width="1" height="22"/>
<rect x="1241" y="247" width="4" height="9"/>
<rect x="1247" y="258" width="1" height="5"/>
<rect x="1246" y="251" width="4" height="7"/>
<rect x="1247" y="252" width="2" height="5" fill="#fff"/>
<rect x="1252" y="255" width="1" height="3"/>
<rect x="1251" y="248" width="4" height="7"/>
<rect x="1252" y="249" width="2" height="5" fill="#fff"/>
<rect x="1256" y="246" width="1" height="7"/>
<rect x="1255" y="249" width="4" height="3"/>
<rect x="1262" y="252" width="1" height="16"/>
<rect x="1261" y="252" width="4" height="14"/>
<rect x="1267" y="262" width="1" height="8"/><rect x="1266" y="267" width="4" height="1"/>
<rect x="1272" y="258" width="1" height="3"/>
<rect x="1272" y="273" width="1" height="7"/>
<rect x="1271" y="261" width="4" height="12"/>
<rect x="1272" y="262" width="2" height="10" fill="#fff"/>
<rect x="1277" y="276" width="1" height="1"/>
<rect x="1277" y="281" width="1" height="2"/>
<rect x="1276" y="277" width="4" height="4"/>
<rect x="1277" y="278" width="2" height="2" fill="#fff"/>
<rect x="1282" y="269" width="1" height="3"/>
<rect x="1282" y="275" width="1" height="6"/>
<rect x="1281" y="272" width="4" height="3"/>
<rect x="1282" y="273" width="2" height="1" fill="#fff"/>
<rect x="1287" y="276" width="1" height="12"/>
<rect x="1286" y="277" width="4" height="4"/>
<rect x="1292" y="274" width="1" height="4"/>
<rect x="1292" y="283" width="1" height="1"/>
<rect x="1291" y="278" width="4" height="5"/>
<rect x="1292" y="279" width="2" height="3" fill="#fff"/>
<rect x="1297" y="278" width="1" height="13"/><rect x="1296" y="285" width="4" height="1"/>
<rect x="1302" y="269" width="1" height="7"/>
<rect x="1302" y="284" width="1" height="1"/>
<rect x="1301" y="276" width="4" height="8"/>
<rect x="1302" y="277" width="2" height="6" fill="#fff"/>
<rect x="1307" y="277" width="1" height="12"/>
<rect x="1306" y="285" width="4" height="2"/>
<rect x="1312" y="257" width="1" height="1"/>
<rect x="1312" y="266" width="1" height="4"/>
<rect x="1311" y="258" width="4" height="8"/>
<rect x="1312" y="259" width="2" height="6" fill="#fff"/>
<rect x="1317" y="258" width="1" height="11"/>
<rect x="1316" y="258" width="4" height="7"/>
<rect x="1322" y="254" width="1" height="9"/><rect x="1321" y="258" width="4" height="1"/>
<rect x="1327" y="252" width="1" height="5"/><rect x="1326" y="253" width="4" height="1"/>
<rect x="1332" y="247" width="1" height="10"/>
<rect x="1331" y="248" width="4" height="3"/>
<rect x="1337" y="246" width="1" height="22"/>
<rect x="1336" y="246" width="4" height="22"/>
<rect x="1342" y="260" width="1" height="11"/><rect x="1341" y="264" width="4" height="1"/>
<rect x="1347" y="261" width="1" height="2"/>
<rect x="1347" y="266" width="1" height="3"/>
<rect x="1346" y="263" width="4" height="3"/>
<rect x="1347" y="264" width="2" height="1" fill="#fff"/>
<rect x="1352" y="261" width="1" height="9"/>
<rect x="1351" y="263" width="4" height="7"/>
<rect x="1357" y="254" width="1" height="4"/>
<rect x="1356" y="258" width="4" height="14"/>
<rect x="1357" y="259" width="2" height="12" fill="#fff"/>
<rect x="1362" y="250" width="1" height="2"/>
<rect x="1362" y="255" width="1" height="1"/>
<rect x="1361" y="252" width="4" height="3"/>
<rect x="1362" y="253" width="2" height="1" fill="#fff"/>
<rect x="1367" y="226" width="1" height="10"/>
<rect x="1366" y="236" width="4" height="12"/>
<rect x="1367" y="237" width="2" height="10" fill="#fff"/>
<rect x="1372" y="231" width="1" height="15"/>
<rect x="1371" y="234" width="4" height="12"/>
<rect x="1377" y="247" width="1" height="11"/><rect x="1376" y="248" width="4" height="1"/>
<rect x="1381" y="248" width="1" height="3"/>
<rect x="1381" y="261" width="1" height="3"/>
<rect x="1380" y="251" width="4" height="10"/>
<rect x="1381" y="252" width="2" height="8" fill="#fff"/>
<rect x="1387" y="240" width="1" height="13"/>
<rect x="1386" y="248" width="4" height="4"/>
<rect x="1392" y="242" width="1" height="12"/><rect x="1391" y="254" width="4" height="1"/>
<rect x="1397" y="247" width="1" height="6"/>
<rect x="1396" y="241" width="4" height="6"/>
<rect x="1397" y="242" width="2" height="4" fill="#fff"/>
<rect x="1402" y="233" width="1" height="10"/><rect x="1401" y="236" width="4" height="1"/>
<rect x="1407" y="233" width="1" height="3"/>
<rect x="1406" y="236" width="4" height="5"/>
<rect x="1407" y="237" width="2" height="3" fill="#fff"/>
<rect x="1412" y="236" width="1" height="12"/>
<rect x="1411" y="238" width="4" height="5"/>
<rect x="1417" y="226" width="1" height="3"/>
<rect x="1417" y="234" width="1" height="4"/>
<rect x="1416" y="229" width="4" height="5"/>
<rect x="1417" y="230" width="2" height="3" fill="#fff"/>
<rect x="1422" y="218" width="1" height="9"/>
<rect x="1421" y="223" width="4" height="3"/>
<rect x="1427" y="223" width="1" height="9"/>
<rect x="1426" y="223" width="4" height="5"/>
<rect x="1432" y="216" width="1" height="17"/>
<rect x="1431" y="221" width="4" height="12"/>
<rect x="1437" y="204" width="1" height="12"/>
<rect x="1436" y="216" width="4" height="10"/>
<rect x="1437" y="217" width="2" height="8" fill="#fff"/>
<rect x="1442" y="208" width="1" height="3"/>
<rect x="1442" y="218" width="1" height="3"/>
<rect x="1441" y="211" width="4" height="7"/>
<rect x="1442" y="212" width="2" height="5" fill="#fff"/>
<rect x="1447" y="194" width="1" height="7"/>
<rect x="1447" y="205" width="1" height="15"/>
<rect x="1446" y="201" width="4" height="4"/>
<rect x="1447" y="202" width="2" height="2" fill="#fff"/>
<rect x="1452" y="201" width="1" height="26"/>
<rect x="1451" y="201" width="4" height="19"/>
<rect x="1457" y="191" width="1" height="6"/>
<rect x="1457" y="209" width="1" height="4"/>
<rect x="1456" y="197" width="4" height="12"/>
<rect x="1457" y="198" width="2" height="10" fill="#fff"/>
<rect x="1462" y="186" width="1" height="2"/>
<rect x="1462" y="192" width="1" height="2"/>
<rect x="1461" y="188" width="4" height="4"/>
<rect x="1462" y="189" width="2" height="2" fill="#fff"/>
<rect x="1467" y="183" width="1" height="2"/>
<rect x="1466" y="169" width="4" height="14"/>
<rect x="1467" y="170" width="2" height="12" fill="#fff"/>
<rect x="1471" y="148" width="4" height="20"/>
<rect x="1472" y="149" width="2" height="18" fill="#fff"/>
<rect x="1477" y="146" width="1" height="3"/>
<rect x="1476" y="133" width="4" height="13"/>
<rect x="1477" y="134" width="2" height="11" fill="#fff"/>
<rect x="1482" y="130" width="1" height="13"/>
<rect x="1481" y="131" width="4" height="3"/>
<rect x="1487" y="122" width="1" height="10"/>
<rect x="1486" y="126" width="4" height="5"/>
<rect x="1492" y="121" width="1" height="11"/>
<rect x="1491" y="123" width="4" height="9"/>
<rect x="1497" y="108" width="1" height="3"/>
<rect x="1496" y="111" width="4" height="18"/>
<rect x="1497" y="112" width="2" height="16" fill="#fff"/>
<rect x="1502" y="105" width="1" height="9"/>
<rect x="1501" y="106" width="4" height="3"/>
<rect x="1506" y="95" width="1" height="8"/><rect x="1505" y="103" width="4" height="1"/>
<rect x="1511" y="88" width="1" height="6"/>
<rect x="1511" y="106" width="1" height="1"/>
<rect x="1510" y="94" width="4" height="12"/>
<rect x="1511" y="95" width="2" height="10" fill="#fff"/>
<rect x="1517" y="86" width="1" height="12"/><rect x="1516" y="94" width="4" height="1"/>
<rect x="1522" y="84" width="1" height="3"/>
<rect x="1521" y="87" width="4" height="9"/>
<rect x="1522" y="88" width="2" height="7" fill="#fff"/>
<rect x="1527" y="79" width="1" height="3"/>
<rect x="1526" y="82" width="4" height="13"/>
<rect x="1527" y="83" width="2" height="11" fill="#fff"/>
<rect x="1532" y="82" width="1" height="4"/>
<rect x="1532" y="89" width="1" height="8"/>
<rect x="1531" y="86" width="4" height="3"/>
<rect x="1532" y="87" width="2" height="1" fill="#fff"/>
<rect x="1537" y="83" width="1" height="32"/>
<rect x="1536" y="87" width="4" height="21"/>
<rect x="1542" y="101" width="1" height="1"/>
<rect x="1542" y="105" width="1" height="9"/>
<rect x="1541" y="102" width="4" height="3"/>
<rect x="1542" y="103" width="2" height="1" fill="#fff"/>
<rect x="1547" y="97" width="1" height="4"/>
<rect x="1547" y="104" width="1" height="3"/>
<rect x="1546" y="101" width="4" height="3"/>
<rect x="1547" y="102" width="2" height="1" fill="#fff"/>
<rect x="1551" y="95" width="1" height="14"/>
<rect x="1550" y="95" width="4" height="8"/>
<rect x="1557" y="103" width="1" height="30"/>
<rect x="1556" y="107" width="4" height="24"/>
<rect x="1562" y="120" width="1" height="15"/>
<rect x="1561" y="122" width="4" height="6"/>
<rect x="1567" y="101" width="1" height="3"/>
<rect x="1567" y="123" width="1" height="3"/>
<rect x="1566" y="104" width="4" height="19"/>
<rect x="1567" y="105" width="2" height="17" fill="#fff"/>
<rect x="1572" y="96" width="1" height="28"/>
<rect x="1571" y="100" width="4" height="17"/>
<rect x="1577" y="108" width="1" height="9"/>
<rect x="1576" y="111" width="4" height="2"/>
<rect x="1582" y="100" width="1" height="17"/><rect x="1581" y="109" width="4" height="1"/>
<rect x="1587" y="98" width="1" height="13"/>
<rect x="1586" y="108" width="4" height="3"/>
<rect x="1592" y="96" width="1" height="4"/>
<rect x="1592" y="107" width="1" height="4"/>
<rect x="1591" y="100" width="4" height="7"/>
<rect x="1592" y="101" width="2" height="5" fill="#fff"/>
<rect x="1597" y="95" width="1" height="12"/><rect x="1596" y="96" width="4" height="1"/>
<rect x="1602" y="86" width="1" height="8"/>
<rect x="1601" y="88" width="4" height="4"/>
<rect x="1607" y="91" width="1" height="21"/>
<rect x="1606" y="93" width="4" height="19"/>
<rect x="1612" y="103" width="1" height="30"/>
<rect x="1611" y="106" width="4" height="26"/>
<rect x="1617" y="120" width="1" height="12"/>
<rect x="1616" y="121" width="4" height="5"/>
<rect x="1622" y="114" width="1" height="3"/>
<rect x="1622" y="121" width="1" height="4"/>
<rect x="1621" y="117" width="4" height="4"/>
<rect x="1622" y="118" width="2" height="2" fill="#fff"/>
<rect x="1627" y="118" width="1" height="6"/>
<rect x="1626" y="115" width="4" height="3"/>
<rect x="1627" y="116" width="2" height="1" fill="#fff"/>
<rect x="1632" y="111" width="1" height="13"/>
<rect x="1631" y="111" width="4" height="13"/>
<rect x="1637" y="119" width="1" height="14"/>
<rect x="1636" y="123" width="4" height="5"/>
<rect x="1642" y="129" width="1" height="9"/>
<rect x="1641" y="130" width="4" height="4"/>
<rect x="1647" y="113" width="1" height="5"/>
<rect x="1646" y="118" width="4" height="10"/>
<rect x="1647" y="119" width="2" height="8" fill="#fff"/>
<rect x="1652" y="112" width="1" height="9"/>
<rect x="1651" y="112" width="4" height="7"/>
<rect x="1657" y="112" width="1" height="1"/>
<rect x="1657" y="117" width="1" height="4"/>
<rect x="1656" y="113" width="4" height="4"/>
<rect x="1657" y="114" width="2" height="2" fill="#fff"/>
<rect x="1662" y="115" width="1" height="12"/><rect x="1661" y="116" width="4" height="1"/>
<rect x="1667" y="113" width="1" height="9"/>
<rect x="1666" y="114" width="4" height="8"/>
<rect x="1672" y="103" width="1" height="10"/>
<rect x="1672" y="121" width="1" height="1"/>
<rect x="1671" y="113" width="4" height="8"/>
<rect x="1672" y="114" width="2" height="6" fill="#fff"/>
<rect x="1676" y="112" width="1" height="14"/><rect x="1675" y="118" width="4" height="1"/>
<rect x="1682" y="105" width="1" height="11"/>
<rect x="1682" y="123" width="1" height="5"/>
<rect x="1681" y="116" width="4" height="7"/>
<rect x="1682" y="117" width="2" height="5" fill="#fff"/>
<rect x="1687" y="106" width="1" height="8"/>
<rect x="1686" y="109" width="4" height="2"/>
<rect x="1692" y="104" width="1" height="14"/>
<rect x="1691" y="106" width="4" height="2"/>
<rect x="1697" y="103" width="1" height="19"/>
<rect x="1696" y="106" width="4" height="16"/>
<rect x="1702" y="105" width="1" height="12"/><rect x="1701" y="114" width="4" height="1"/>
<rect x="1707" y="121" width="1" height="11"/>
<rect x="1706" y="109" width="4" height="12"/>
<rect x="1707" y="110" width="2" height="10" fill="#fff"/>
<rect x="1712" y="97" width="1" height="19"/>
<rect x="1711" y="105" width="4" height="11"/>
<rect x="1717" y="109" width="1" height="20"/>
<rect x="1716" y="111" width="4" height="13"/>
<rect x="1722" y="140" width="1" height="29"/>
<rect x="1721" y="144" width="4" height="3"/>
<rect x="1727" y="126" width="1" height="9"/>
<rect x="1727" y="141" width="1" height="1"/>
<rect x="1726" y="135" width="4" height="6"/>
<rect x="1727" y="136" width="2" height="4" fill="#fff"/>
<rect x="1732" y="125" width="1" height="13"/>
<rect x="1731" y="134" width="4" height="4"/>
<rect x="1737" y="127" width="1" height="11"/><rect x="1736" y="133" width="4" height="1"/>
<rect x="1742" y="126" width="1" height="5"/>
<rect x="1741" y="131" width="4" height="3"/>
<rect x="1742" y="132" width="2" height="1" fill="#fff"/>
<rect x="1747" y="123" width="1" height="1"/>
<rect x="1747" y="128" width="1" height="9"/>
<rect x="1746" y="124" width="4" height="4"/>
<rect x="1747" y="125" width="2" height="2" fill="#fff"/>
<rect x="1752" y="113" width="1" height="8"/><rect x="1751" y="116" width="4" height="1"/>
<rect x="1757" y="105" width="1" height="3"/>
<rect x="1757" y="113" width="1" height="7"/>
<rect x="1756" y="108" width="4" height="5"/>
<rect x="1757" y="109" width="2" height="3" fill="#fff"/>
<rect x="1762" y="98" width="1" height="3"/>
<rect x="1762" y="106" width="1" height="7"/>
<rect x="1761" y="101" width="4" height="5"/>
<rect x="1762" y="102" width="2" height="3" fill="#fff"/>
<rect x="1767" y="93" width="1" height="13"/><rect x="1766" y="96" width="4" height="1"/>
<rect x="1772" y="86" width="1" height="7"/>
<rect x="1772" y="96" width="1" height="5"/>
<rect x="1771" y="93" width="4" height="3"/>
<rect x="1772" y="94" width="2" height="1" fill="#fff"/>
<rect x="1777" y="77" width="1" height="5"/>
<rect x="1777" y="93" width="1" height="3"/>
<rect x="1776" y="82" width="4" height="11"/>
<rect x="1777" y="83" width="2" height="9" fill="#fff"/>
<rect x="1782" y="76" width="1" height="2"/>
<rect x="1782" y="91" width="1" height="20"/>
<rect x="1781" y="78" width="4" height="13"/>
<rect x="1782" y="79" width="2" height="11" fill="#fff"/>
<rect x="1787" y="82" width="1" height="15"/>
<rect x="1786" y="86" width="4" height="4"/>
<rect x="1792" y="50" width="1" height="18"/>
<rect x="1792" y="89" width="1" height="16"/>
<rect x="1791" y="68" width="4" height="21"/>
<rect x="1792" y="69" width="2" height="19" fill="#fff"/>
<rect x="1797" y="51" width="1" height="8"/>
<rect x="1797" y="63" width="1" height="11"/>
<rect x="1796" y="59" width="4" height="4"/>
<rect x="1797" y="60" width="2" height="2" fill="#fff"/>
</g>
<g shape-rendering="crispEdges" fill="#00f">
<rect x="0" y="640" width="1855" height="1"/><rect x="0" y="838" width="1855" height="1"/>
<rect x="1227" y="627" width="1" height="253"/>
<rect x="2" y="871" width="1" height="9"/>
<rect x="7" y="870" width="1" height="10"/>
<rect x="12" y="871" width="1" height="9"/>
<rect x="17" y="870" width="1" height="10"/>
<rect x="22" y="866" width="1" height="14"/>
<rect x="27" y="871" width="1" height="9"/>
<rect x="32" y="873" width="1" height="7"/>
<rect x="36" y="872" width="1" height="8"/>
<rect x="42" y="866" width="1" height="14"/>
<rect x="47" y="860" width="1" height="20"/>
<rect x="52" y="870" width="1" height="10"/>
<rect x="57" y="875" width="1" height="5"/>
<rect x="62" y="873" width="1" height="7"/>
<rect x="67" y="873" width="1" height="7"/>
<rect x="72" y="873" width="1" height="7"/>
<rect x="77" y="872" width="1" height="8"/>
<rect x="82" y="874" width="1" height="6"/>
<rect x="87" y="873" width="1" height="7"/>
<rect x="92" y="874" width="1" height="6"/>
<rect x="97" y="871" width="1" height="9"/>
<rect x="102" y="872" width="1" height="8"/>
<rect x="107" y="875" width="1" height="5"/>
<rect x="112" y="875" width="1" height="5"/>
<rect x="117" y="873" width="1" height="7"/>
<rect x="122" y="875" width="1" height="5"/>
<rect x="127" y="875" width="1" height="5"/>
<rect x="132" y="873" width="1" height="7"/>
<rect x="137" y="875" width="1" height="5"/>
<rect x="142" y="873" width="1" height="7"/>
<rect x="147" y="874" width="1" height="6"/>
<rect x="152" y="870" width="1" height="10"/>
<rect x="157" y="870" width="1" height="10"/>
<rect x="162" y="873" width="1" height="7"/>
<rect x="167" y="872" width="1" height="8"/>
<rect x="172" y="876" width="1" height="4"/>
<rect x="177" y="876" width="1" height="4"/>
<rect x="182" y="869" width="1" height="11"/>
<rect x="187" y="872" width="1" height="8"/>
<rect x="192" y="863" width="1" height="17"/>
<rect x="197" y="864" width="1" height="16"/>
<rect x="202" y="859" width="1" height="21"/>
<rect x="207" y="869" width="1" height="11"/>
<rect x="212" y="866" width="1" height="14"/>
<rect x="217" y="871" width="1" height="9"/>
<rect x="222" y="870" width="1" height="10"/>
<rect x="227" y="872" width="1" height="8"/>
<rect x="232" y="870" width="1" height="10"/>
<rect x="237" y="876" width="1" height="4"/>
<rect x="242" y="870" width="1" height="10"/>
<rect x="246" y="871" width="1" height="9"/>
<rect x="252" y="872" width="1" height="8"/>
<rect x="257" y="874" width="1" height="6"/>
<rect x="262" y="874" width="1" height="6"/>
<rect x="267" y="874" width="1" height="6"/>
<rect x="272" y="874" width="1" height="6"/>
<rect x="277" y="874" width="1" height="6"/>
<rect x="282" y="874" width="1" height="6"/>
<rect x="287" y="874" width="1" height="6"/>
<rect x="292" y="870" width="1" height="10"/>
<rect x="297" y="872" width="1" height="8"/>
<rect x="302" y="869" width="1" height="11"/>
<rect x="307" y="872" width="1" height="8"/>
<rect x="312" y="874" width="1" height="6"/>
<rect x="317" y="869" width="1" height="11"/>
<rect x="322" y="874" width="1" height="6"/>
<rect x="327" y="872" width="1" height="8"/>
<rect x="332" y="872" width="1" height="8"/>
<rect x="337" y="874" width="1" height="6"/>
<rect x="342" y="876" width="1" height="4"/>
<rect x="347" y="877" width="1" height="3"/>
<rect x="352" y="874" width="1" height="6"/>
<rect x="357" y="876" width="1" height="4"/>
<rect x="362" y="870" width="1" height="10"/>
<rect x="367" y="856" width="1" height="24"/>
<rect x="372" y="869" width="1" height="11"/>
<rect x="377" y="874" width="1" height="6"/>
<rect x="382" y="877" width="1" height="3"/>
<rect x="387" y="869" width="1" height="11"/>
<rect x="392" y="858" width="1" height="22"/>
<rect x="397" y="871" width="1" height="9"/>
<rect x="402" y="870" width="1" height="10"/>
<rect x="407" y="873" width="1" height="7"/>
<rect x="412" y="870" width="1" height="10"/>
<rect x="417" y="870" width="1" height="10"/>
<rect x="422" y="873" width="1" height="7"/>
<rect x="427" y="874" width="1" height="6"/>
<rect x="432" y="874" width="1" height="6"/>
<rect x="437" y="874" width="1" height="6"/>
<rect x="442" y="874" width="1" height="6"/>
<rect x="447" y="874" width="1" height="6"/>
<rect x="452" y="874" width="1" height="6"/>
<rect x="457" y="874" width="1" height="6"/>
<rect x="462" y="872" width="1" height="8"/>
<rect x="467" y="874" width="1" height="6"/>
<rect x="472" y="873" width="1" height="7"/>
<rect x="477" y="874" width="1" height="6"/>
<rect x="482" y="877" width="1" height="3"/>
<rect x="487" y="877" width="1" height="3"/>
<rect x="492" y="877" width="1" height="3"/>
<rect x="497" y="874" width="1" height="6"/>
<rect x="502" y="871" width="1" height="9"/>
<rect x="507" y="871" width="1" height="9"/>
<rect x="512" y="870" width="1" height="10"/>
<rect x="517" y="876" width="1" height="4"/>
<rect x="522" y="873" width="1" height="7"/>
<rect x="527" y="873" width="1" height="7"/>
<rect x="532" y="865" width="1" height="15"/>
<rect x="537" y="860" width="1" height="20"/>
<rect x="542" y="867" width="1" height="13"/>
<rect x="547" y="877" width="1" height="3"/>
<rect x="552" y="869" width="1" height="11"/>
<rect x="557" y="872" width="1" height="8"/>
<rect x="562" y="871" width="1" height="9"/>
<rect x="567" y="873" width="1" height="7"/>
<rect x="572" y="869" width="1" height="11"/>
<rect x="577" y="868" width="1" height="12"/>
<rect x="582" y="874" width="1" height="6"/>
<rect x="587" y="872" width="1" height="8"/>
<rect x="592" y="873" width="1" height="7"/>
<rect x="597" y="871" width="1" height="9"/>
<rect x="602" y="873" width="1" height="7"/>
<rect x="607" y="873" width="1" height="7"/>
<rect x="612" y="876" width="1" height="4"/>
<rect x="617" y="874" width="1" height="6"/>
<rect x="622" y="872" width="1" height="8"/>
<rect x="627" y="875" width="1" height="5"/>
<rect x="632" y="873" width="1" height="7"/>
<rect x="637" y="874" width="1" height="6"/>
<rect x="642" y="875" width="1" height="5"/>
<rect x="647" y="875" width="1" height="5"/>
<rect x="652" y="876" width="1" height="4"/>
<rect x="657" y="875" width="1" height="5"/>
<rect x="662" y="873" width="1" height="7"/>
<rect x="667" y="872" width="1" height="8"/>
<rect x="672" y="871" width="1" height="9"/>
<rect x="677" y="874" width="1" height="6"/>
<rect x="682" y="876" width="1" height="4"/>
<rect x="687" y="871" width="1" height="9"/>
<rect x="692" y="866" width="1" height="14"/>
<rect x="697" y="872" width="1" height="8"/>
<rect x="702" y="876" width="1" height="4"/>
<rect x="707" y="877" width="1" height="3"/>
<rect x="712" y="874" width="1" height="6"/>
<rect x="717" y="877" width="1" height="3"/>
<rect x="722" y="874" width="1" height="6"/>
<rect x="727" y="873" width="1" height="7"/>
<rect x="732" y="856" width="1" height="24"/>
<rect x="737" y="869" width="1" height="11"/>
<rect x="742" y="870" width="1" height="10"/>
<rect x="747" y="872" width="1" height="8"/>
<rect x="752" y="874" width="1" height="6"/>
<rect x="757" y="868" width="1" height="12"/>
<rect x="762" y="871" width="1" height="9"/>
<rect x="767" y="870" width="1" height="10"/>
<rect x="772" y="873" width="1" height="7"/>
<rect x="777" y="863" width="1" height="17"/>
<rect x="782" y="871" width="1" height="9"/>
<rect x="787" y="873" width="1" height="7"/>
<rect x="792" y="868" width="1" height="12"/>
<rect x="796" y="870" width="1" height="10"/>
<rect x="802" y="873" width="1" height="7"/>
<rect x="807" y="874" width="1" height="6"/>
<rect x="812" y="868" width="1" height="12"/>
<rect x="817" y="870" width="1" height="10"/>
<rect x="822" y="871" width="1" height="9"/>
<rect x="827" y="872" width="1" height="8"/>
<rect x="832" y="867" width="1" height="13"/>
<rect x="837" y="853" width="1" height="27"/>
<rect x="842" y="866" width="1" height="14"/>
<rect x="847" y="870" width="1" height="10"/>
<rect x="852" y="868" width="1" height="12"/>
<rect x="857" y="864" width="1" height="16"/>
<rect x="862" y="867" width="1" height="13"/>
<rect x="867" y="870" width="1" height="10"/>
<rect x="872" y="872" width="1" height="8"/>
<rect x="877" y="874" width="1" height="6"/>
<rect x="882" y="869" width="1" height="11"/>
<rect x="887" y="869" width="1" height="11"/>
<rect x="892" y="873" width="1" height="7"/>
<rect x="897" y="873" width="1" height="7"/>
<rect x="902" y="871" width="1" height="9"/>
<rect x="907" y="870" width="1" height="10"/>
<rect x="912" y="870" width="1" height="10"/>
<rect x="917" y="867" width="1" height="13"/>
<rect x="921" y="867" width="1" height="13"/>
<rect x="927" y="861" width="1" height="19"/>
<rect x="932" y="866" width="1" height="14"/>
<rect x="937" y="862" width="1" height="18"/>
<rect x="942" y="861" width="1" height="19"/>
<rect x="947" y="865" width="1" height="15"/>
<rect x="952" y="869" width="1" height="11"/>
<rect x="957" y="867" width="1" height="13"/>
<rect x="962" y="871" width="1" height="9"/>
<rect x="967" y="867" width="1" height="13"/>
<rect x="972" y="868" width="1" height="12"/>
<rect x="977" y="865" width="1" height="15"/>
<rect x="982" y="868" width="1" height="12"/>
<rect x="987" y="868" width="1" height="12"/>
<rect x="992" y="858" width="1" height="22"/>
<rect x="997" y="860" width="1" height="20"/>
<rect x="1002" y="862" width="1" height="18"/>
<rect x="1007" y="861" width="1" height="19"/>
<rect x="1012" y="864" width="1" height="16"/>
<rect x="1017" y="870" width="1" height="10"/>
<rect x="1022" y="865" width="1" height="15"/>
<rect x="1027" y="870" width="1" height="10"/>
<rect x="1032" y="866" width="1" height="14"/>
<rect x="1037" y="859" width="1" height="21"/>
<rect x="1042" y="832" width="1" height="48"/>
<rect x="1046" y="838" width="1" height="42"/>
<rect x="1052" y="849" width="1" height="31"/>
<rect x="1057" y="861" width="1" height="19"/>
<rect x="1062" y="842" width="1" height="38"/>
<rect x="1067" y="861" width="1" height="19"/>
<rect x="1072" y="858" width="1" height="22"/>
<rect x="1077" y="861" width="1" height="19"/>
<rect x="1082" y="862" width="1" height="18"/>
<rect x="1087" y="853" width="1" height="27"/>
<rect x="1091" y="851" width="1" height="29"/>
<rect x="1097" y="856" width="1" height="24"/>
<rect x="1102" y="866" width="1" height="14"/>
<rect x="1107" y="868" width="1" height="12"/>
<rect x="1112" y="868" width="1" height="12"/>
<rect x="1117" y="867" width="1" height="13"/>
<rect x="1122" y="866" width="1" height="14"/>
<rect x="1127" y="858" width="1" height="22"/>
<rect x="1131" y="869" width="1" height="11"/>
<rect x="1137" y="866" width="1" height="14"/>
<rect x="1142" y="865" width="1" height="15"/>
<rect x="1147" y="856" width="1" height="24"/>
<rect x="1152" y="866" width="1" height="14"/>
<rect x="1157" y="865" width="1" height="15"/>
<rect x="1162" y="865" width="1" height="15"/>
<rect x="1167" y="863" width="1" height="17"/>
<rect x="1172" y="866" width="1" height="14"/>
<rect x="1177" y="865" width="1" height="15"/>
<rect x="1182" y="868" width="1" height="12"/>
<rect x="1187" y="866" width="1" height="14"/>
<rect x="1192" y="862" width="1" height="18"/>
<rect x="1197" y="864" width="1" height="16"/>
<rect x="1202" y="858" width="1" height="22"/>
<rect x="1207" y="871" width="1" height="9"/>
<rect x="1212" y="866" width="1" height="14"/>
<rect x="1217" y="872" width="1" height="8"/>
<rect x="1222" y="871" width="1" height="9"/>
<rect x="1227" y="871" width="1" height="9"/>
<rect x="1232" y="867" width="1" height="13"/>
<rect x="1237" y="868" width="1" height="12"/>
<rect x="1242" y="861" width="1" height="19"/>
<rect x="1247" y="867" width="1" height="13"/>
<rect x="1252" y="872" width="1" height="8"/>
<rect x="1256" y="873" width="1" height="7"/>
<rect x="1262" y="869" width="1" height="11"/>
<rect x="1267" y="873" width="1" height="7"/>
<rect x="1272" y="867" width="1" height="13"/>
<rect x="1277" y="868" width="1" height="12"/>
<rect x="1282" y="871" width="1" height="9"/>
<rect x="1287" y="870" width="1" height="10"/>
<rect x="1292" y="872" width="1" height="8"/>
<rect x="1297" y="869" width="1" height="11"/>
<rect x="1302" y="863" width="1" height="17"/>
<rect x="1307" y="872" width="1" height="8"/>
<rect x="1312" y="871" width="1" height="9"/>
<rect x="1317" y="873" width="1" height="7"/>
<rect x="1322" y="867" width="1" height="13"/>
<rect x="1327" y="875" width="1" height="5"/>
<rect x="1332" y="871" width="1" height="9"/>
<rect x="1337" y="870" width="1" height="10"/>
<rect x="1342" y="872" width="1" height="8"/>
<rect x="1347" y="873" width="1" height="7"/>
<rect x="1352" y="876" width="1" height="4"/>
<rect x="1357" y="872" width="1" height="8"/>
<rect x="1362" y="871" width="1" height="9"/>
<rect x="1367" y="865" width="1" height="15"/>
<rect x="1372" y="875" width="1" height="5"/>
<rect x="1377" y="872" width="1" height="8"/>
<rect x="1381" y="873" width="1" height="7"/>
<rect x="1387" y="874" width="1" height="6"/>
<rect x="1392" y="875" width="1" height="5"/>
<rect x="1397" y="873" width="1" height="7"/>
<rect x="1402" y="871" width="1" height="9"/>
<rect x="1407" y="875" width="1" height="5"/>
<rect x="1412" y="872" width="1" height="8"/>
<rect x="1417" y="867" width="1" height="13"/>
<rect x="1422" y="867" width="1" height="13"/>
<rect x="1427" y="872" width="1" height="8"/>
<rect x="1432" y="873" width="1" height="7"/>
<rect x="1437" y="862" width="1" height="18"/>
<rect x="1442" y="871" width="1" height="9"/>
<rect x="1447" y="861" width="1" height="19"/>
<rect x="1452" y="869" width="1" height="11"/>
<rect x="1457" y="868" width="1" height="12"/>
<rect x="1462" y="872" width="1" height="8"/>
<rect x="1467" y="868" width="1" height="12"/>
<rect x="1472" y="867" width="1" height="13"/>
<rect x="1477" y="870" width="1" height="10"/>
<rect x="1482" y="872" width="1" height="8"/>
<rect x="1487" y="871" width="1" height="9"/>
<rect x="1492" y="873" width="1" height="7"/>
<rect x="1497" y="868" width="1" height="12"/>
<rect x="1502" y="874" width="1" height="6"/>
<rect x="1506" y="872" width="1" height="8"/>
<rect x="1511" y="869" width="1" height="11"/>
<rect x="1517" y="871" width="1" height="9"/>
<rect x="1522" y="873" width="1" height="7"/>
<rect x="1527" y="873" width="1" height="7"/>
<rect x="1532" y="861" width="1" height="19"/>
<rect x="1537" y="867" width="1" height="13"/>
<rect x="1542" y="872" width="1" height="8"/>
<rect x="1547" y="874" width="1" height="6"/>
<rect x="1551" y="875" width="1" height="5"/>
<rect x="1557" y="869" width="1" height="11"/>
<rect x="1562" y="873" width="1" height="7"/>
<rect x="1567" y="873" width="1" height="7"/>
<rect x="1572" y="874" width="1" height="6"/>
<rect x="1577" y="874" width="1" height="6"/>
<rect x="1582" y="870" width="1" height="10"/>
<rect x="1587" y="871" width="1" height="9"/>
<rect x="1592" y="874" width="1" height="6"/>
<rect x="1597" y="874" width="1" height="6"/>
<rect x="1602" y="871" width="1" height="9"/>
<rect x="1607" y="872" width="1" height="8"/>
<rect x="1612" y="866" width="1" height="14"/>
<rect x="1617" y="873" width="1" height="7"/>
<rect x="1622" y="868" width="1" height="12"/>
<rect x="1627" y="874" width="1" height="6"/>
<rect x="1632" y="873" width="1" height="7"/>
<rect x="1637" y="874" width="1" height="6"/>
<rect x="1642" y="873" width="1" height="7"/>
<rect x="1647" y="874" width="1" height="6"/>
<rect x="1652" y="876" width="1" height="4"/>
<rect x="1657" y="874" width="1" height="6"/>
<rect x="1662" y="875" width="1" height="5"/>
<rect x="1667" y="873" width="1" height="7"/>
<rect x="1672" y="874" width="1" height="6"/>
<rect x="1676" y="874" width="1" height="6"/>
<rect x="1682" y="876" width="1" height="4"/>
<rect x="1687" y="873" width="1" height="7"/>
<rect x="1692" y="874" width="1" height="6"/>
<rect x="1697" y="872" width="1" height="8"/>
<rect x="1702" y="875" width="1" height="5"/>
<rect x="1707" y="872" width="1" height="8"/>
<rect x="1712" y="873" width="1" height="7"/>
<rect x="1717" y="874" width="1" height="6"/>
<rect x="1722" y="862" width="1" height="18"/>
<rect x="1727" y="874" width="1" height="6"/>
<rect x="1732" y="873" width="1" height="7"/>
<rect x="1737" y="875" width="1" height="5"/>
<rect x="1742" y="876" width="1" height="4"/>
<rect x="1747" y="875" width="1" height="5"/>
<rect x="1752" y="874" width="1" height="6"/>
<rect x="1757" y="872" width="1" height="8"/>
<rect x="1762" y="872" width="1" height="8"/>
<rect x="1767" y="873" width="1" height="7"/>
<rect x="1772" y="871" width="1" height="9"/>
<rect x="1777" y="871" width="1" height="9"/>
<rect x="1782" y="867" width="1" height="13"/>
<rect x="1787" y="864" width="1" height="16"/>
<rect x="1792" y="854" width="1" height="26"/>
<rect x="1797" y="868" width="1" height="12"/>
</g>
<polyline fill="none" stroke="#f00" stroke-width="1" shape-rendering="crispEdges" points="0.0,717.5 2.0,721.5 7.0,789.3 12.0,722.8 17.0,760.8 22.0,798.1 27.0,769.4 32.0,760.8 36.0,780.5 42.0,741.4 47.0,753.4 52.0,711.3 57.0,732.1 62.0,757.4 67.0,777.9 72.0,789.3 77.0,728.1 82.0,744.1 87.0,731.6 92.0,739.6 97.0,766.7 102.0,715.6 107.0,737.4 112.0,711.3 117.0,726.8 122.0,705.5 127.0,694.8 132.0,682.9 137.0,717.5 142.0,738.8 147.0,735.3 152.0,681.5 157.0,681.5 162.0,714.8 167.0,748.1 172.0,722.8 177.0,741.4 182.0,683.7 187.0,737.4 192.0,818.6 197.0,831.9 202.0,844.4 207.0,846.0 212.0,780.5 217.0,792.0 222.0,760.0 227.0,738.8 232.0,724.1 237.0,711.3 242.0,683.7 246.0,675.7 252.0,685.5 257.0,694.3 262.0,690.8 267.0,674.9 272.0,710.3 277.0,694.8 282.0,678.9 287.0,669.6 292.0,654.4 297.0,648.8 302.0,746.7 307.0,721.5 312.0,706.8 317.0,748.1 322.0,717.5 327.0,750.7 332.0,775.5 337.0,737.4 342.0,744.9 347.0,729.4 352.0,714.8 357.0,705.5 362.0,672.2 367.0,666.1 372.0,724.6 377.0,709.5 382.0,725.4 387.0,673.5 392.0,672.8 397.0,722.8 402.0,768.0 407.0,765.4 412.0,807.1 417.0,766.7 422.0,750.7 427.0,734.8 432.0,721.5 437.0,740.1 442.0,721.5 447.0,704.2 452.0,693.5 457.0,682.9 462.0,662.9 467.0,648.8 472.0,716.1 477.0,729.4 482.0,760.0 487.0,770.7 492.0,765.4 497.0,716.1 502.0,697.5 507.0,720.1 512.0,763.5 517.0,740.1 522.0,766.2 527.0,709.5 532.0,718.8 537.0,712.1 542.0,674.9 547.0,651.5 552.0,733.4 557.0,743.3 562.0,716.1 567.0,745.4 572.0,788.0 577.0,827.9 582.0,829.2 587.0,813.3 592.0,808.5 597.0,808.5 602.0,827.9 607.0,834.6 612.0,786.7 617.0,796.0 622.0,798.6 627.0,726.8 632.0,685.5 637.0,665.6 642.0,670.9 647.0,684.2 652.0,714.8 657.0,684.7 662.0,678.9 667.0,657.6 672.0,653.6 677.0,701.5 682.0,717.5 687.0,774.7 692.0,782.7 697.0,776.0 702.0,753.4 707.0,720.1 712.0,736.1 717.0,757.4 722.0,681.5 727.0,672.2 732.0,639.5 737.0,635.0 742.0,672.2 747.0,704.2 752.0,686.9 757.0,670.9 762.0,666.9 767.0,650.9 772.0,644.8 777.0,636.3 782.0,678.3 787.0,666.9 792.0,710.8 796.0,710.8 802.0,697.5 807.0,688.2 812.0,674.9 817.0,662.9 822.0,682.9 827.0,670.9 832.0,658.9 837.0,634.2 842.0,642.1 847.0,640.3 852.0,635.8 857.0,629.6 862.0,629.6 867.0,660.8 872.0,652.3 877.0,642.9 882.0,706.8 887.0,771.5 892.0,765.4 897.0,767.2 902.0,746.7 907.0,687.4 912.0,726.8 917.0,758.2 921.0,710.3 927.0,792.0 932.0,758.7 937.0,720.1 942.0,708.7 947.0,748.1 952.0,777.3 957.0,728.1 962.0,733.4 967.0,706.8 972.0,689.5 977.0,671.4 982.0,664.8 987.0,676.2 992.0,671.4 997.0,652.3 1002.0,640.3 1007.0,637.6 1012.0,642.9 1017.0,681.5 1022.0,753.4 1027.0,728.1 1032.0,745.4 1037.0,801.3 1042.0,849.2 1046.0,857.2 1052.0,800.8 1057.0,815.1 1062.0,769.4 1067.0,777.9 1072.0,742.2 1077.0,722.3 1082.0,734.8 1087.0,749.4 1091.0,797.3 1097.0,768.8 1102.0,758.7 1107.0,736.9 1112.0,726.8 1117.0,724.6 1122.0,745.4 1127.0,708.7 1131.0,702.3 1137.0,698.0 1142.0,685.5 1147.0,662.9 1152.0,656.3 1157.0,652.3 1162.0,644.3 1167.0,639.0 1172.0,635.8 1177.0,632.3 1182.0,628.3 1187.0,627.8 1192.0,623.5 1197.0,682.9 1202.0,744.6 1207.0,737.4 1212.0,752.1 1217.0,766.7 1222.0,780.5 1227.0,769.4 1232.0,765.4 1237.0,769.4 1242.0,805.3 1247.0,766.7 1252.0,729.4 1256.0,764.0 1262.0,812.5 1267.0,818.6 1272.0,767.5 1277.0,812.5 1282.0,783.2 1287.0,805.3 1292.0,790.6 1297.0,807.1 1302.0,758.2 1307.0,789.3 1312.0,708.7 1317.0,728.1 1322.0,712.1 1327.0,701.5 1332.0,697.5 1337.0,761.9 1342.0,748.1 1347.0,744.6 1352.0,770.7 1357.0,721.5 1362.0,706.8 1367.0,674.9 1372.0,714.8 1377.0,732.1 1381.0,738.8 1387.0,745.4 1392.0,753.4 1397.0,697.5 1402.0,686.3 1407.0,682.9 1412.0,733.4 1417.0,686.3 1422.0,680.2 1427.0,706.8 1432.0,730.0 1437.0,679.4 1442.0,668.2 1447.0,656.3 1452.0,742.7 1457.0,694.8 1462.0,680.2 1467.0,662.9 1472.0,648.3 1477.0,642.9 1482.0,644.8 1487.0,642.4 1492.0,654.1 1497.0,639.0 1502.0,638.2 1506.0,635.0 1511.0,631.5 1517.0,636.8 1522.0,633.6 1527.0,631.0 1532.0,649.6 1537.0,761.4 1542.0,740.1 1547.0,736.1 1551.0,749.4 1557.0,816.5 1562.0,804.0 1567.0,728.1 1572.0,760.0 1577.0,745.4 1582.0,738.8 1587.0,742.2 1592.0,711.3 1597.0,700.2 1602.0,688.2 1607.0,753.4 1612.0,807.1 1617.0,780.0 1622.0,752.1 1627.0,749.4 1632.0,776.0 1637.0,789.3 1642.0,801.3 1647.0,736.1 1652.0,738.0 1657.0,717.5 1662.0,732.1 1667.0,757.4 1672.0,722.0 1676.0,752.9 1682.0,736.1 1687.0,720.1 1692.0,702.8 1697.0,771.5 1702.0,740.1 1707.0,718.3 1712.0,754.7 1717.0,784.0 1722.0,826.6 1727.0,778.7 1732.0,783.2 1737.0,761.4 1742.0,756.1 1747.0,721.5 1752.0,694.8 1757.0,677.5 1762.0,665.6 1767.0,657.6 1772.0,654.4 1777.0,641.1 1782.0,638.4 1787.0,720.9 1792.0,677.5 1797.0,664.2"/>
<g shape-rendering="crispEdges" fill="#000">
<rect x="1855" y="0" width="1" height="880"/>
<rect x="1855" y="3" width="6" height="1"/>
<rect x="1855" y="9" width="3" height="1"/>
<rect x="1855" y="14" width="3" height="1"/>
<rect x="1855" y="20" width="3" height="1"/>
<rect x="1855" y="26" width="3" height="1"/>
<rect x="1855" y="31" width="6" height="1"/>
<rect x="1855" y="37" width="3" height="1"/>
<rect x="1855" y="42" width="3" height="1"/>
<rect x="1855" y="48" width="3" height="1"/>
<rect x="1855" y="54" width="3" height="1"/>
<rect x="1855" y="59" width="6" height="1"/>
<rect x="1855" y="65" width="3" height="1"/>
<rect x="1855" y="71" width="3" height="1"/>
<rect x="1855" y="76" width="3" height="1"/>
<rect x="1855" y="82" width="3" height="1"/>
<rect x="1855" y="88" width="6" height="1"/>
<rect x="1855" y="93" width="3" height="1"/>
<rect x="1855" y="99" width="3" height="1"/>
<rect x="1855" y="105" width="3" height="1"/>
<rect x="1855" y="110" width="3" height="1"/>
<rect x="1855" y="116" width="6" height="1"/>
<rect x="1855" y="122" width="3" height="1"/>
<rect x="1855" y="127" width="3" height="1"/>
<rect x="1855" y="133" width="3" height="1"/>
<rect x="1855" y="138" width="3" height="1"/>
<rect x="1855" y="144" width="6" height="1"/>
<rect x="1855" y="150" width="3" height="1"/>
<rect x="1855" y="155" width="3" height="1"/>
<rect x="1855" y="161" width="3" height="1"/>
<rect x="1855" y="167" width="3" height="1"/>
<rect x="1855" y="172" width="6" height="1"/>
<rect x="1855" y="178" width="3" height="1"/>
<rect x="1855" y="184" width="3" height="1"/>
<rect x="1855" y="189" width="3" height="1"/>
<rect x="1855" y="195" width="3" height="1"/>
<rect x="1855" y="201" width="6" height="1"/>
<rect x="1855" y="206" width="3" height="1"/>
<rect x="1855" y="212" width="3" height="1"/>
<rect x="1855" y="217" width="3" height="1"/>
<rect x="1855" y="223" width="3" height="1"/>
<rect x="1855" y="229" width="6" height="1"/>
<rect x="1855" y="234" width="3" height="1"/>
<rect x="1855" y="240" width="3" height="1"/>
<rect x="1855" y="246" width="3" height="1"/>
<rect x="1855" y="251" width="3" height="1"/>
<rect x="1855" y="257" width="6" height="1"/>
<rect x="1855" y="263" width="3" height="1"/>
<rect x="1855" y="268" width="3" height="1"/>
<rect x="1855" y="274" width="3" height="1"/>
<rect x="1855" y="280" width="3" height="1"/>
<rect x="1855" y="285" width="6" height="1"/>
<rect x="1855" y="291" width="3" height="1"/>
<rect x="1855" y="297" width="3" height="1"/>
<rect x="1855" y="302" width="3" height="1"/>
<rect x="1855" y="308" width="3" height="1"/>
<rect x="1855" y="313" width="6" height="1"/>
<rect x="1855" y="319" width="3" height="1"/>
<rect x="1855" y="325" width="3" height="1"/>
<rect x="1855" y="330" width="3" height="1"/>
<rect x="1855" y="336" width="3" height="1"/>
<rect x="1855" y="342" width="6" height="1"/>
<rect x="1855" y="347" width="3" height="1"/>
<rect x="1855" y="353" width="3" height="1"/>
<rect x="1855" y="359" width="3" height="1"/>
<rect x="1855" y="364" width="3" height="1"/>
<rect x="1855" y="370" width="6" height="1"/>
<rect x="1855" y="376" width="3" height="1"/>
<rect x="1855" y="381" width="3" height="1"/>
<rect x="1855" y="387" width="3" height="1"/>
<rect x="1855" y="393" width="3" height="1"/>
<rect x="1855" y="398" width="6" height="1"/>
<rect x="1855" y="404" width="3" height="1"/>
<rect x="1855" y="409" width="3" height="1"/>
<rect x="1855" y="415" width="3" height="1"/>
<rect x="1855" y="421" width="3" height="1"/>
<rect x="1855" y="426" width="6" height="1"/>
<rect x="1855" y="432" width="3" height="1"/>
<rect x="1855" y="438" width="3" height="1"/>
<rect x="1855" y="443" width="3" height="1"/>
<rect x="1855" y="449" width="3" height="1"/>
<rect x="1855" y="455" width="6" height="1"/>
<rect x="1855" y="460" width="3" height="1"/>
<rect x="1855" y="466" width="3" height="1"/>
<rect x="1855" y="472" width="3" height="1"/>
<rect x="1855" y="477" width="3" height="1"/>
<rect x="1855" y="483" width="6" height="1"/>
<rect x="1855" y="488" width="3" height="1"/>
<rect x="1855" y="494" width="3" height="1"/>
<rect x="1855" y="500" width="3" height="1"/>
<rect x="1855" y="505" width="3" height="1"/>
<rect x="1855" y="511" width="6" height="1"/>
<rect x="1855" y="517" width="3" height="1"/>
<rect x="1855" y="522" width="3" height="1"/>
<rect x="1855" y="528" width="3" height="1"/>
<rect x="1855" y="534" width="3" height="1"/>
<rect x="1855" y="539" width="6" height="1"/>
<rect x="1855" y="545" width="3" height="1"/>
<rect x="1855" y="551" width="3" height="1"/>
<rect x="1855" y="556" width="3" height="1"/>
<rect x="1855" y="562" width="3" height="1"/>
<rect x="1855" y="568" width="6" height="1"/>
<rect x="1855" y="573" width="3" height="1"/>
<rect x="1855" y="579" width="3" height="1"/>
<rect x="1855" y="584" width="3" height="1"/>
<rect x="1855" y="590" width="3" height="1"/>
<rect x="1855" y="596" width="6" height="1"/>
<rect x="1855" y="872" width="3" height="1"/>
<rect x="1855" y="863" width="3" height="1"/>
<rect x="1855" y="855" width="3" height="1"/>
<rect x="1855" y="846" width="3" height="1"/>
<rect x="1855" y="838" width="6" height="1"/>
<rect x="1855" y="829" width="3" height="1"/>
<rect x="1855" y="821" width="3" height="1"/>
<rect x="1855" y="812" width="3" height="1"/>
<rect x="1855" y="804" width="3" height="1"/>
<rect x="1855" y="795" width="6" height="1"/>
<rect x="1855" y="786" width="3" height="1"/>
<rect x="1855" y="778" width="3" height="1"/>
<rect x="1855" y="769" width="3" height="1"/>
<rect x="1855" y="761" width="3" height="1"/>
<rect x="1855" y="752" width="6" height="1"/>
<rect x="1855" y="744" width="3" height="1"/>
<rect x="1855" y="735" width="3" height="1"/>
<rect x="1855" y="727" width="3" height="1"/>
<rect x="1855" y="718" width="3" height="1"/>
<rect x="1855" y="710" width="6" height="1"/>
<rect x="1855" y="701" width="3" height="1"/>
<rect x="1855" y="693" width="3" height="1"/>
<rect x="1855" y="684" width="3" height="1"/>
<rect x="1855" y="676" width="3" height="1"/>
<rect x="1855" y="667" width="6" height="1"/>
<rect x="1855" y="659" width="3" height="1"/>
<rect x="1855" y="650" width="3" height="1"/>
<rect x="1855" y="642" width="3" height="1"/>
<rect x="1855" y="633" width="3" height="1"/>
<rect x="1855" y="624" width="6" height="1"/>
<rect x="1855" y="616" width="3" height="1"/>
<rect x="0" y="880" width="1855" height="1"/><rect x="0" y="891" width="1855" height="1"/>
<rect x="2" y="880" width="1" height="12"/>
<rect x="27" y="880" width="1" height="12"/>
<rect x="52" y="880" width="1" height="12"/>
<rect x="77" y="880" width="1" height="12"/>
<rect x="102" y="880" width="1" height="12"/>
<rect x="127" y="880" width="1" height="12"/>
<rect x="152" y="880" width="1" height="12"/>
<rect x="177" y="880" width="1" height="12"/>
<rect x="202" y="880" width="1" height="12"/>
<rect x="227" y="880" width="1" height="12"/>
<rect x="246" y="880" width="1" height="12"/>
<rect x="272" y="880" width="1" height="12"/>
<rect x="297" y="880" width="1" height="12"/>
<rect x="322" y="880" width="1" height="12"/>
<rect x="347" y="880" width="1" height="12"/>
<rect x="372" y="880" width="1" height="12"/>
<rect x="397" y="880" width="1" height="12"/>
<rect x="422" y="880" width="1" height="12"/>
<rect x="447" y="880" width="1" height="12"/>
<rect x="472" y="880" width="1" height="12"/>
<rect x="497" y="880" width="1" height="12"/>
<rect x="522" y="880" width="1" height="12"/>
<rect x="547" y="880" width="1" height="12"/>
<rect x="572" y="880" width="1" height="12"/>
<rect x="597" y="880" width="1" height="12"/>
<rect x="622" y="880" width="1" height="12"/>
<rect x="647" y="880" width="1" height="12"/>
<rect x="672" y="880" width="1" height="12"/>
<rect x="697" y="880" width="1" height="12"/>
<rect x="707" y="880" width="1" height="12"/>
<rect x="722" y="880" width="1" height="12"/>
<rect x="747" y="880" width="1" height="12"/>
<rect x="772" y="880" width="1" height="12"/>
<rect x="796" y="880" width="1" height="12"/>
<rect x="822" y="880" width="1" height="12"/>
<rect x="847" y="880" width="1" height="12"/>
<rect x="872" y="880" width="1" height="12"/>
<rect x="897" y="880" width="1" height="12"/>
<rect x="921" y="880" width="1" height="12"/>
<rect x="947" y="880" width="1" height="12"/>
<rect x="972" y="880" width="1" height="12"/>
<rect x="997" y="880" width="1" height="12"/>
<rect x="1022" y="880" width="1" height="12"/>
<rect x="1046" y="880" width="1" height="12"/>
<rect x="1072" y="880" width="1" height="12"/>
<rect x="1091" y="880" width="1" height="12"/>
<rect x="1112" y="880" width="1" height="12"/>
<rect x="1131" y="880" width="1" height="12"/>
<rect x="1157" y="880" width="1" height="12"/>
<rect x="1182" y="880" width="1" height="12"/>
<rect x="1207" y="880" width="1" height="12"/>
<rect x="1232" y="880" width="1" height="12"/>
<rect x="1256" y="880" width="1" height="12"/>
<rect x="1282" y="880" width="1" height="12"/>
<rect x="1307" y="880" width="1" height="12"/>
<rect x="1332" y="880" width="1" height="12"/>
<rect x="1357" y="880" width="1" height="12"/>
<rect x="1381" y="880" width="1" height="12"/>
<rect x="1407" y="880" width="1" height="12"/>
<rect x="1432" y="880" width="1" height="12"/>
<rect x="1457" y="880" width="1" height="12"/>
<rect x="1482" y="880" width="1" height="12"/>
<rect x="1502" y="880" width="1" height="12"/>
<rect x="1527" y="880" width="1" height="12"/>
<rect x="1551" y="880" width="1" height="12"/>
<rect x="1577" y="880" width="1" height="12"/>
<rect x="1602" y="880" width="1" height="12"/>
<rect x="1627" y="880" width="1" height="12"/>
<rect x="1652" y="880" width="1" height="12"/>
<rect x="1676" y="880" width="1" height="12"/>
<rect x="1702" y="880" width="1" height="12"/>
<rect x="1727" y="880" width="1" height="12"/>
<rect x="1752" y="880" width="1" height="12"/>
<rect x="1777" y="880" width="1" height="12"/>
<rect x="1801" y="880" width="1" height="12"/>
<rect x="1827" y="880" width="1" height="12"/>
<rect x="1851" y="880" width="1" height="12"/>
<rect x="77" y="880" width="1" height="22"/>
<rect x="192" y="880" width="1" height="22"/>
<rect x="297" y="880" width="1" height="22"/>
<rect x="402" y="880" width="1" height="22"/>
<rect x="517" y="880" width="1" height="22"/>
<rect x="622" y="880" width="1" height="22"/>
<rect x="712" y="880" width="1" height="22"/>
<rect x="822" y="880" width="1" height="22"/>
<rect x="921" y="880" width="1" height="22"/>
<rect x="1027" y="880" width="1" height="22"/>
<rect x="1127" y="880" width="1" height="22"/>
<rect x="1232" y="880" width="1" height="22"/>
<rect x="1337" y="880" width="1" height="22"/>
<rect x="1452" y="880" width="1" height="22"/>
<rect x="1551" y="880" width="1" height="22"/>
<rect x="1662" y="880" width="1" height="22"/>
<rect x="1777" y="880" width="1" height="22"/>
</g>
<g font-size="8.2" fill="#111" text-anchor="end">
<text x="1887.6" y="34.6">18.5</text>
<text x="1887.6" y="62.8">18.0</text>
<text x="1887.6" y="91.0">17.5</text>
<text x="1887.6" y="119.3">17.0</text>
<text x="1887.6" y="147.5">16.5</text>
<text x="1887.6" y="175.7">16.0</text>
<text x="1887.6" y="204.0">15.5</text>
<text x="1887.6" y="232.2">15.0</text>
<text x="1887.6" y="260.4">14.5</text>
<text x="1887.6" y="288.6">14.0</text>
<text x="1887.6" y="316.9">13.5</text>
<text x="1887.6" y="345.1">13.0</text>
<text x="1887.6" y="373.3">12.5</text>
<text x="1887.6" y="401.6">12.0</text>
<text x="1887.6" y="429.8">11.5</text>
<text x="1887.6" y="458.0">11.0</text>
<text x="1887.6" y="486.2">10.5</text>
<text x="1887.6" y="514.5">10.0</text>
<text x="1887.6" y="542.7">9.5</text>
<text x="1887.6" y="570.9">9.0</text>
<text x="1887.6" y="599.2">8.5</text>
<text x="1887.6" y="841.0">5000</text>
<text x="1887.6" y="798.4">10000</text>
<text x="1887.6" y="755.8">15000</text>
<text x="1887.6" y="713.1">20000</text>
<text x="1887.6" y="670.5">25000</text>
<text x="1887.6" y="627.9">30000</text>
</g>
<clipPath id="cb"><rect x="0" y="880" width="1855" height="22"/></clipPath>
<g font-size="7.4" fill="#111" clip-path="url(#cb)">
<text transform="translate(3.2,888.5) scale(1.16,1)">10</text>
<text transform="translate(28.2,888.5) scale(1.16,1)">17</text>
<text transform="translate(53.2,888.5) scale(1.16,1)">24</text>
<text transform="translate(78.2,888.5) scale(1.16,1)">1</text>
<text transform="translate(103.2,888.5) scale(1.16,1)">8</text>
<text transform="translate(128.2,888.5) scale(1.16,1)">15</text>
<text transform="translate(153.2,888.5) scale(1.16,1)">22</text>
<text transform="translate(178.2,888.5) scale(1.16,1)">29</text>
<text transform="translate(203.2,888.5) scale(1.16,1)">5</text>
<text transform="translate(228.2,888.5) scale(1.16,1)">12</text>
<text transform="translate(247.2,888.5) scale(1.16,1)">19</text>
<text transform="translate(273.2,888.5) scale(1.16,1)">26</text>
<text transform="translate(298.2,888.5) scale(1.16,1)">2</text>
<text transform="translate(323.2,888.5) scale(1.16,1)">9</text>
<text transform="translate(348.2,888.5) scale(1.16,1)">16</text>
<text transform="translate(373.2,888.5) scale(1.16,1)">23</text>
<text transform="translate(398.2,888.5) scale(1.16,1)">30</text>
<text transform="translate(423.2,888.5) scale(1.16,1)">7</text>
<text transform="translate(448.2,888.5) scale(1.16,1)">14</text>
<text transform="translate(473.2,888.5) scale(1.16,1)">21</text>
<text transform="translate(498.2,888.5) scale(1.16,1)">28</text>
<text transform="translate(523.2,888.5) scale(1.16,1)">4</text>
<text transform="translate(548.2,888.5) scale(1.16,1)">11</text>
<text transform="translate(573.2,888.5) scale(1.16,1)">18</text>
<text transform="translate(598.2,888.5) scale(1.16,1)">25</text>
<text transform="translate(623.2,888.5) scale(1.16,1)">2</text>
<text transform="translate(648.2,888.5) scale(1.16,1)">9</text>
<text transform="translate(673.2,888.5) scale(1.16,1)">16</text>
<text transform="translate(698.2,888.5) scale(1.16,1)">23</text>
<text transform="translate(723.2,888.5) scale(1.16,1)">6</text>
<text transform="translate(748.2,888.5) scale(1.16,1)">13</text>
<text transform="translate(773.2,888.5) scale(1.16,1)">20</text>
<text transform="translate(797.2,888.5) scale(1.16,1)">27</text>
<text transform="translate(823.2,888.5) scale(1.16,1)">3</text>
<text transform="translate(848.2,888.5) scale(1.16,1)">10</text>
<text transform="translate(873.2,888.5) scale(1.16,1)">17</text>
<text transform="translate(898.2,888.5) scale(1.16,1)">24</text>
<text transform="translate(922.2,888.5) scale(1.16,1)">3</text>
<text transform="translate(948.2,888.5) scale(1.16,1)">10</text>
<text transform="translate(973.2,888.5) scale(1.16,1)">17</text>
<text transform="translate(998.2,888.5) scale(1.16,1)">24</text>
<text transform="translate(1023.2,888.5) scale(1.16,1)">31</text>
<text transform="translate(1047.2,888.5) scale(1.16,1)">7</text>
<text transform="translate(1073.2,888.5) scale(1.16,1)">14</text>
<text transform="translate(1092.2,888.5) scale(1.16,1)">22</text>
<text transform="translate(1113.2,888.5) scale(1.16,1)">28</text>
<text transform="translate(1132.2,888.5) scale(1.16,1)">5</text>
<text transform="translate(1158.2,888.5) scale(1.16,1)">12</text>
<text transform="translate(1183.2,888.5) scale(1.16,1)">19</text>
<text transform="translate(1208.2,888.5) scale(1.16,1)">26</text>
<text transform="translate(1233.2,888.5) scale(1.16,1)">2</text>
<text transform="translate(1257.2,888.5) scale(1.16,1)">9</text>
<text transform="translate(1283.2,888.5) scale(1.16,1)">16</text>
<text transform="translate(1308.2,888.5) scale(1.16,1)">23</text>
<text transform="translate(1333.2,888.5) scale(1.16,1)">30</text>
<text transform="translate(1358.2,888.5) scale(1.16,1)">7</text>
<text transform="translate(1382.2,888.5) scale(1.16,1)">14</text>
<text transform="translate(1408.2,888.5) scale(1.16,1)">21</text>
<text transform="translate(1433.2,888.5) scale(1.16,1)">28</text>
<text transform="translate(1458.2,888.5) scale(1.16,1)">4</text>
<text transform="translate(1483.2,888.5) scale(1.16,1)">11</text>
<text transform="translate(1503.2,888.5) scale(1.16,1)">18</text>
<text transform="translate(1528.2,888.5) scale(1.16,1)">25</text>
<text transform="translate(1552.2,888.5) scale(1.16,1)">1</text>
<text transform="translate(1578.2,888.5) scale(1.16,1)">8</text>
<text transform="translate(1603.2,888.5) scale(1.16,1)">15</text>
<text transform="translate(1628.2,888.5) scale(1.16,1)">22</text>
<text transform="translate(1653.2,888.5) scale(1.16,1)">29</text>
<text transform="translate(1677.2,888.5) scale(1.16,1)">6</text>
<text transform="translate(1703.2,888.5) scale(1.16,1)">13</text>
<text transform="translate(1728.2,888.5) scale(1.16,1)">20</text>
<text transform="translate(1753.2,888.5) scale(1.16,1)">27</text>
<text transform="translate(1778.2,888.5) scale(1.16,1)">3</text>
<text transform="translate(1802.2,888.5) scale(1.16,1)">10</text>
<text transform="translate(1828.2,888.5) scale(1.16,1)">17</text>
<text transform="translate(1852.2,888.5) scale(1.16,1)">24</text>
<text transform="translate(77.8,899.5) scale(1.2,1)">July</text>
<text transform="translate(192.8,899.5) scale(1.2,1)">August</text>
<text transform="translate(297.8,899.5) scale(1.2,1)">September</text>
<text transform="translate(402.8,899.5) scale(1.2,1)">October</text>
<text transform="translate(517.8,899.5) scale(1.2,1)">November</text>
<text transform="translate(622.8,899.5) scale(1.2,1)">December</text>
<text transform="translate(712.8,899.5) scale(1.2,1)">2025</text>
<text transform="translate(822.8,899.5) scale(1.2,1)">February</text>
<text transform="translate(921.8,899.5) scale(1.2,1)">March</text>
<text transform="translate(1027.8,899.5) scale(1.2,1)">April</text>
<text transform="translate(1127.8,899.5) scale(1.2,1)">May</text>
<text transform="translate(1232.8,899.5) scale(1.2,1)">June</text>
<text transform="translate(1337.8,899.5) scale(1.2,1)">July</text>
<text transform="translate(1452.8,899.5) scale(1.2,1)">August</text>
<text transform="translate(1551.8,899.5) scale(1.2,1)">September</text>
<text transform="translate(1662.8,899.5) scale(1.2,1)">October</text>
<text transform="translate(1777.8,899.5) scale(1.2,1)">November</text>
</g>
<g shape-rendering="crispEdges" fill="#000"><rect x="1857" y="872" width="20" height="1"/><rect x="1857" y="872" width="1" height="8"/><rect x="1876" y="872" width="1" height="8"/></g>
<text x="1858.2" y="878.2" font-size="5.8" fill="#444" textLength="17" lengthAdjust="spacingAndGlyphs">x1000</text>
<text x="795.8" y="11.2" font-size="8.5" fill="#222" textLength="74.5" lengthAdjust="spacingAndGlyphs">BCA MEDIOLANUM</text>
<text x="872.6" y="11.2" font-size="8.5" fill="#222" textLength="185.8" lengthAdjust="spacingAndGlyphs">(17.9400, 18.1600, 17.7500, 18.0300, +0.18000)</text>
<g shape-rendering="crispEdges"><rect x="269.5" y="34.5" width="412" height="52" fill="#ccffff" stroke="#000"/></g>
<g font-size="14.67" font-weight="bold" fill="#000">
<text x="270.7" y="47.6" textLength="83.6" lengthAdjust="spacingAndGlyphs">Mediolanum</text>
<text x="359.7" y="47.6" textLength="21.9" lengthAdjust="spacingAndGlyphs">sui</text>
<text x="386.1" y="47.6" textLength="37.1" lengthAdjust="spacingAndGlyphs">18,03</text>
<text x="428.2" y="47.6" textLength="11.4" lengthAdjust="spacingAndGlyphs">in</text>
<text x="444.7" y="47.6" textLength="38.2" lengthAdjust="spacingAndGlyphs">close</text>
<text x="490.4" y="47.6" textLength="27.4" lengthAdjust="spacingAndGlyphs">con</text>
<text x="521.7" y="47.6" textLength="27.4" lengthAdjust="spacingAndGlyphs">test</text>
<text x="553.0" y="47.6" textLength="20.6" lengthAdjust="spacingAndGlyphs">dei</text>
<text x="578.0" y="47.6" textLength="41.6" lengthAdjust="spacingAndGlyphs">18,16.</text>
<text x="270.7" y="64.7" textLength="52.9" lengthAdjust="spacingAndGlyphs">Rimane</text>
<text x="327.5" y="64.7" textLength="65.5" lengthAdjust="spacingAndGlyphs">tranquilla</text>
<text x="397.5" y="64.7" textLength="21.1" lengthAdjust="spacingAndGlyphs">sui</text>
<text x="422.5" y="64.7" textLength="59.5" lengthAdjust="spacingAndGlyphs">massimi</text>
<text x="485.9" y="64.7" textLength="35.9" lengthAdjust="spacingAndGlyphs">dopo</text>
<text x="527.4" y="64.7" textLength="104.2" lengthAdjust="spacingAndGlyphs">l'accelerazione</text>
<text x="635.5" y="64.7" textLength="12.0" lengthAdjust="spacingAndGlyphs">di</text>
<text x="652.0" y="64.7" textLength="25.6" lengthAdjust="spacingAndGlyphs">ieri.</text>
<text x="270.7" y="82.5" textLength="31.9" lengthAdjust="spacingAndGlyphs">Stop</text>
<text x="307.6" y="82.5" textLength="36.5" lengthAdjust="spacingAndGlyphs">sotto</text>
<text x="348.0" y="82.5" textLength="3.5" lengthAdjust="spacingAndGlyphs">i</text>
<text x="356.6" y="82.5" textLength="28.5" lengthAdjust="spacingAndGlyphs">17,5</text>
<text x="389.5" y="82.5" textLength="8.6" lengthAdjust="spacingAndGlyphs">e</text>
<text x="402.1" y="82.5" textLength="43.2" lengthAdjust="spacingAndGlyphs">diamo</text>
<text x="449.3" y="82.5" textLength="45.8" lengthAdjust="spacingAndGlyphs">spazio</text>
<text x="500.7" y="82.5" textLength="12.0" lengthAdjust="spacingAndGlyphs">al</text>
<text x="517.2" y="82.5" textLength="29.6" lengthAdjust="spacingAndGlyphs">buy.</text>
</g>
<g shape-rendering="crispEdges"><rect x="1512.5" y="558.5" width="206" height="11" fill="#fff" stroke="#000"/></g>
<text x="1514.5" y="566.9" font-size="9.6" font-weight="bold" fill="#000" stroke="#000" stroke-width="0.7" textLength="202.5" lengthAdjust="spacingAndGlyphs">COPYRIGHT@ LABORSADEIPICCOLI.COM</text>
</svg></body></html>
